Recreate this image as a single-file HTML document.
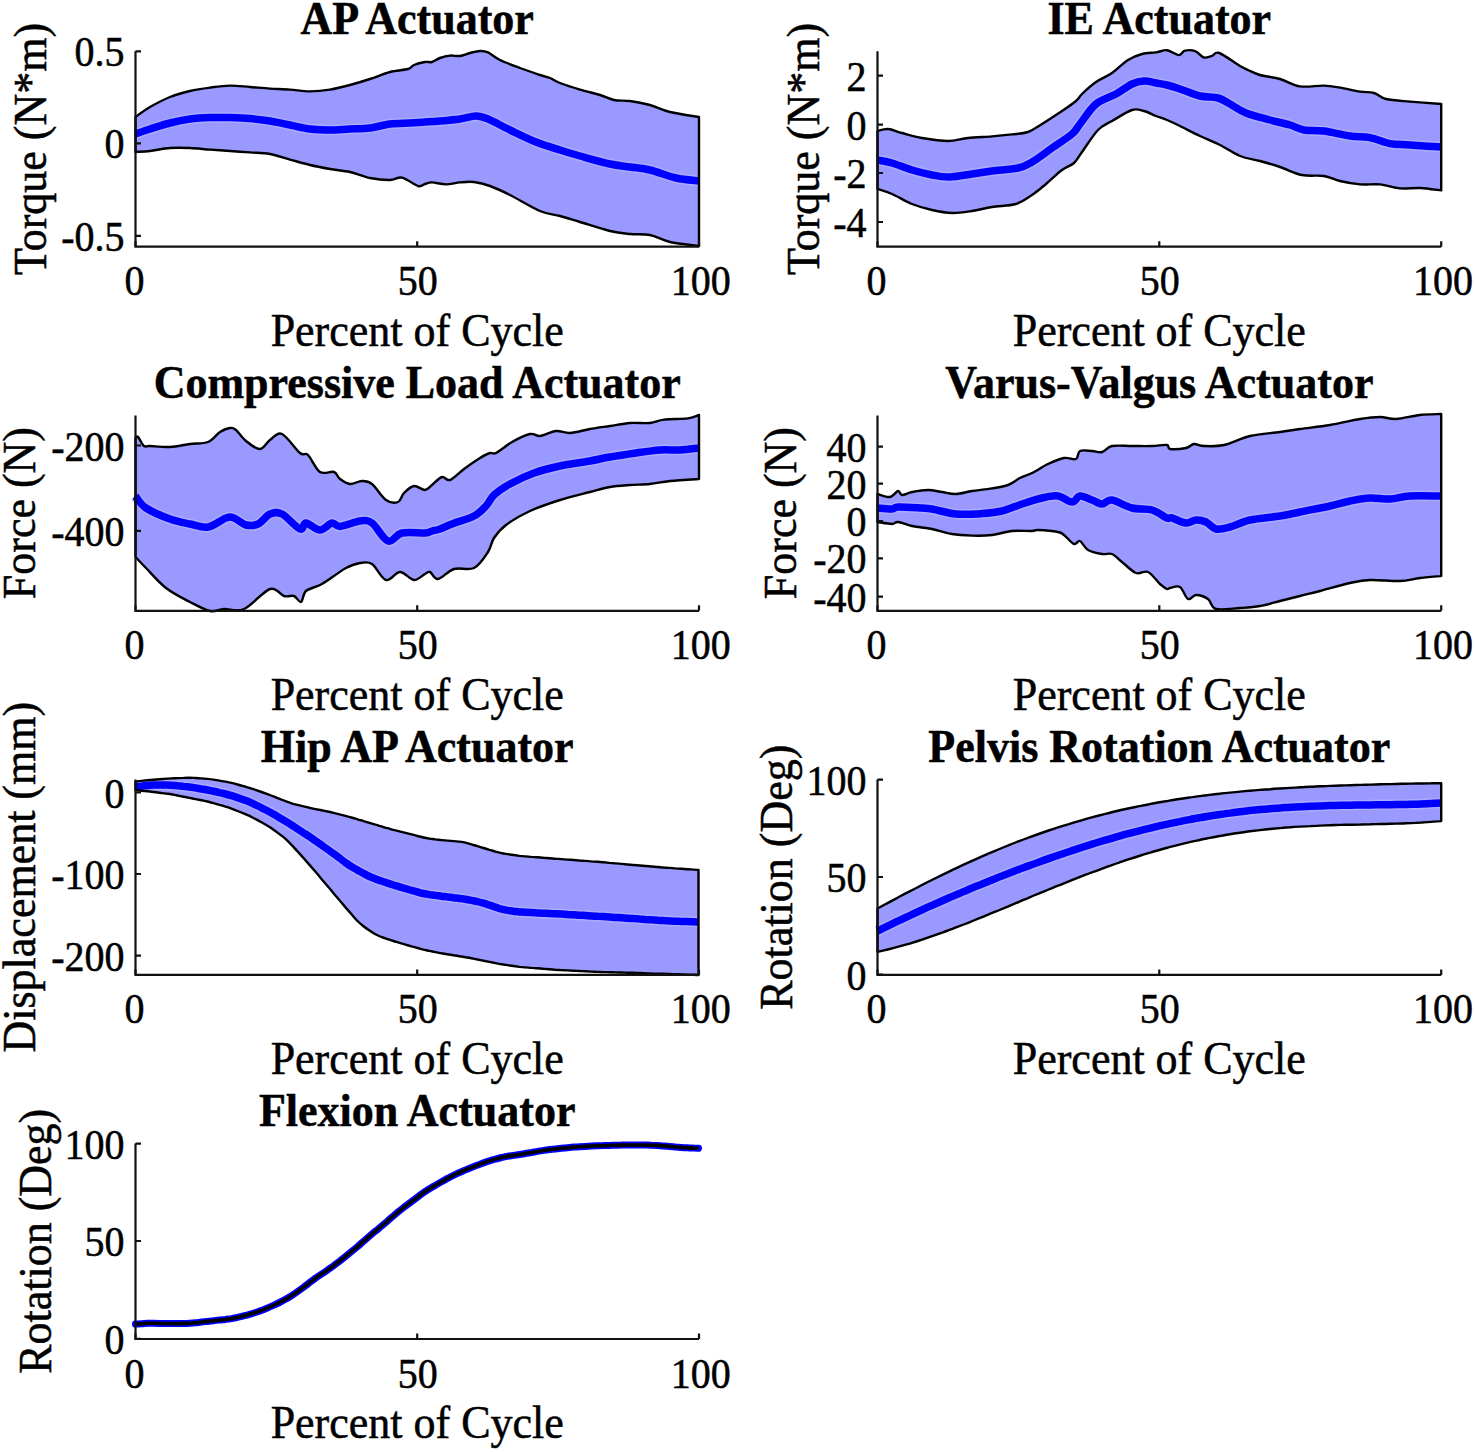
<!DOCTYPE html>
<html><head><meta charset="utf-8"><style>
html,body{margin:0;padding:0;background:#fff;overflow:hidden}
svg{display:block;font-family:"Liberation Serif",serif}
text{stroke:#000;stroke-width:0.5px}
</style></head><body>
<svg width="1475" height="1452" viewBox="0 0 1475 1452">
<rect width="1475" height="1452" fill="#fff"/>
<g>
<path d="M135.5 117.0 C137.9 115.3 144.2 110.3 150.0 107.0 C155.8 103.7 163.3 99.7 170.0 97.0 C176.7 94.3 183.3 92.6 190.0 91.0 C196.7 89.4 203.3 88.5 210.0 87.6 C216.7 86.7 223.3 85.7 230.0 85.6 C236.7 85.5 243.3 86.5 250.0 87.0 C256.7 87.5 263.3 88.2 270.0 88.6 C276.7 89.0 283.3 89.1 290.0 89.6 C296.7 90.1 303.3 91.4 310.0 91.4 C316.7 91.4 323.3 90.7 330.0 89.6 C336.7 88.5 343.3 86.8 350.0 85.0 C356.7 83.2 363.3 81.2 370.0 79.0 C376.7 76.8 383.7 73.7 390.0 72.0 C396.3 70.3 404.0 70.2 408.0 69.0 C412.0 67.8 411.2 66.2 414.0 65.0 C416.8 63.8 422.0 62.5 425.0 62.0 C428.0 61.5 429.5 62.7 432.0 62.0 C434.5 61.3 437.0 59.1 440.0 58.0 C443.0 56.9 446.7 55.9 450.0 55.6 C453.3 55.3 456.7 56.4 460.0 56.0 C463.3 55.6 466.7 53.8 470.0 53.0 C473.3 52.2 477.0 51.1 480.0 51.0 C483.0 50.9 484.7 50.9 488.0 52.4 C491.3 53.9 494.7 57.4 500.0 60.0 C505.3 62.6 513.3 65.5 520.0 68.0 C526.7 70.5 535.0 73.3 540.0 75.0 C545.0 76.7 546.7 76.7 550.0 78.0 C553.3 79.3 555.0 81.1 560.0 83.0 C565.0 84.9 573.3 87.6 580.0 89.6 C586.7 91.6 594.3 93.3 600.0 95.0 C605.7 96.7 609.0 99.0 614.0 100.0 C619.0 101.0 624.0 100.2 630.0 101.0 C636.0 101.8 643.3 103.2 650.0 105.0 C656.7 106.8 661.8 110.0 670.0 112.0 C678.2 114.0 694.2 116.2 699.0 117.0 L699.0 246.0 C694.2 245.3 678.2 243.8 670.0 242.0 C661.8 240.2 656.7 236.3 650.0 235.0 C643.3 233.7 636.7 234.7 630.0 234.0 C623.3 233.3 618.3 233.0 610.0 231.0 C601.7 229.0 588.3 224.5 580.0 222.0 C571.7 219.5 566.7 217.8 560.0 216.0 C553.3 214.2 548.3 214.5 540.0 211.0 C531.7 207.5 518.3 199.2 510.0 195.0 C501.7 190.8 496.0 188.2 490.0 186.0 C484.0 183.8 479.0 182.6 474.0 182.0 C469.0 181.4 464.7 182.0 460.0 182.4 C455.3 182.8 450.7 184.4 446.0 184.4 C441.3 184.4 435.5 182.5 432.0 182.4 C428.5 182.3 427.3 183.4 425.0 184.0 C422.7 184.6 421.8 187.1 418.0 186.0 C414.2 184.9 406.7 178.6 402.0 177.6 C397.3 176.6 395.3 179.9 390.0 180.0 C384.7 180.1 376.7 179.3 370.0 178.0 C363.3 176.7 356.7 173.5 350.0 172.0 C343.3 170.5 336.7 170.2 330.0 169.0 C323.3 167.8 316.7 166.6 310.0 165.0 C303.3 163.4 296.7 161.4 290.0 159.6 C283.3 157.8 276.7 155.2 270.0 154.0 C263.3 152.8 256.7 152.9 250.0 152.4 C243.3 151.9 236.7 151.5 230.0 151.0 C223.3 150.5 216.7 150.1 210.0 149.6 C203.3 149.1 196.7 148.3 190.0 148.0 C183.3 147.7 176.7 147.5 170.0 148.0 C163.3 148.5 155.8 150.3 150.0 151.0 C144.2 151.7 137.9 151.8 135.5 152.0 Z" fill="#9999FF"/>
<path d="M135.5 134.0 C137.9 133.2 144.2 130.8 150.0 129.0 C155.8 127.2 163.3 124.7 170.0 123.0 C176.7 121.3 183.3 119.9 190.0 119.0 C196.7 118.1 203.3 117.8 210.0 117.6 C216.7 117.4 223.3 117.4 230.0 117.6 C236.7 117.8 243.3 118.0 250.0 118.6 C256.7 119.2 263.3 119.9 270.0 121.0 C276.7 122.1 283.3 123.7 290.0 125.0 C296.7 126.3 303.3 128.2 310.0 129.0 C316.7 129.8 323.3 130.0 330.0 130.0 C336.7 130.0 343.3 129.3 350.0 129.0 C356.7 128.7 363.3 128.8 370.0 128.0 C376.7 127.2 383.3 124.8 390.0 124.0 C396.7 123.2 404.2 123.3 410.0 123.0 C415.8 122.7 420.0 122.3 425.0 122.0 C430.0 121.7 434.2 121.5 440.0 121.0 C445.8 120.5 454.0 119.8 460.0 119.0 C466.0 118.2 471.3 116.0 476.0 116.0 C480.7 116.0 482.3 116.7 488.0 119.0 C493.7 121.3 502.0 126.2 510.0 130.0 C518.0 133.8 527.7 138.7 536.0 142.0 C544.3 145.3 552.7 147.7 560.0 150.0 C567.3 152.3 571.7 153.7 580.0 156.0 C588.3 158.3 601.7 162.2 610.0 164.0 C618.3 165.8 623.3 166.0 630.0 167.0 C636.7 168.0 642.3 168.2 650.0 170.0 C657.7 171.8 667.8 176.2 676.0 178.0 C684.2 179.8 695.2 180.5 699.0 181.0" fill="none" stroke="#ABABFF" stroke-width="10.5"/>
<path d="M135.5 134.0 C137.9 133.2 144.2 130.8 150.0 129.0 C155.8 127.2 163.3 124.7 170.0 123.0 C176.7 121.3 183.3 119.9 190.0 119.0 C196.7 118.1 203.3 117.8 210.0 117.6 C216.7 117.4 223.3 117.4 230.0 117.6 C236.7 117.8 243.3 118.0 250.0 118.6 C256.7 119.2 263.3 119.9 270.0 121.0 C276.7 122.1 283.3 123.7 290.0 125.0 C296.7 126.3 303.3 128.2 310.0 129.0 C316.7 129.8 323.3 130.0 330.0 130.0 C336.7 130.0 343.3 129.3 350.0 129.0 C356.7 128.7 363.3 128.8 370.0 128.0 C376.7 127.2 383.3 124.8 390.0 124.0 C396.7 123.2 404.2 123.3 410.0 123.0 C415.8 122.7 420.0 122.3 425.0 122.0 C430.0 121.7 434.2 121.5 440.0 121.0 C445.8 120.5 454.0 119.8 460.0 119.0 C466.0 118.2 471.3 116.0 476.0 116.0 C480.7 116.0 482.3 116.7 488.0 119.0 C493.7 121.3 502.0 126.2 510.0 130.0 C518.0 133.8 527.7 138.7 536.0 142.0 C544.3 145.3 552.7 147.7 560.0 150.0 C567.3 152.3 571.7 153.7 580.0 156.0 C588.3 158.3 601.7 162.2 610.0 164.0 C618.3 165.8 623.3 166.0 630.0 167.0 C636.7 168.0 642.3 168.2 650.0 170.0 C657.7 171.8 667.8 176.2 676.0 178.0 C684.2 179.8 695.2 180.5 699.0 181.0" fill="none" stroke="#0000FF" stroke-width="7.5"/>
<path d="M135.5 117.0 C137.9 115.3 144.2 110.3 150.0 107.0 C155.8 103.7 163.3 99.7 170.0 97.0 C176.7 94.3 183.3 92.6 190.0 91.0 C196.7 89.4 203.3 88.5 210.0 87.6 C216.7 86.7 223.3 85.7 230.0 85.6 C236.7 85.5 243.3 86.5 250.0 87.0 C256.7 87.5 263.3 88.2 270.0 88.6 C276.7 89.0 283.3 89.1 290.0 89.6 C296.7 90.1 303.3 91.4 310.0 91.4 C316.7 91.4 323.3 90.7 330.0 89.6 C336.7 88.5 343.3 86.8 350.0 85.0 C356.7 83.2 363.3 81.2 370.0 79.0 C376.7 76.8 383.7 73.7 390.0 72.0 C396.3 70.3 404.0 70.2 408.0 69.0 C412.0 67.8 411.2 66.2 414.0 65.0 C416.8 63.8 422.0 62.5 425.0 62.0 C428.0 61.5 429.5 62.7 432.0 62.0 C434.5 61.3 437.0 59.1 440.0 58.0 C443.0 56.9 446.7 55.9 450.0 55.6 C453.3 55.3 456.7 56.4 460.0 56.0 C463.3 55.6 466.7 53.8 470.0 53.0 C473.3 52.2 477.0 51.1 480.0 51.0 C483.0 50.9 484.7 50.9 488.0 52.4 C491.3 53.9 494.7 57.4 500.0 60.0 C505.3 62.6 513.3 65.5 520.0 68.0 C526.7 70.5 535.0 73.3 540.0 75.0 C545.0 76.7 546.7 76.7 550.0 78.0 C553.3 79.3 555.0 81.1 560.0 83.0 C565.0 84.9 573.3 87.6 580.0 89.6 C586.7 91.6 594.3 93.3 600.0 95.0 C605.7 96.7 609.0 99.0 614.0 100.0 C619.0 101.0 624.0 100.2 630.0 101.0 C636.0 101.8 643.3 103.2 650.0 105.0 C656.7 106.8 661.8 110.0 670.0 112.0 C678.2 114.0 694.2 116.2 699.0 117.0 L699.0 246.0 C694.2 245.3 678.2 243.8 670.0 242.0 C661.8 240.2 656.7 236.3 650.0 235.0 C643.3 233.7 636.7 234.7 630.0 234.0 C623.3 233.3 618.3 233.0 610.0 231.0 C601.7 229.0 588.3 224.5 580.0 222.0 C571.7 219.5 566.7 217.8 560.0 216.0 C553.3 214.2 548.3 214.5 540.0 211.0 C531.7 207.5 518.3 199.2 510.0 195.0 C501.7 190.8 496.0 188.2 490.0 186.0 C484.0 183.8 479.0 182.6 474.0 182.0 C469.0 181.4 464.7 182.0 460.0 182.4 C455.3 182.8 450.7 184.4 446.0 184.4 C441.3 184.4 435.5 182.5 432.0 182.4 C428.5 182.3 427.3 183.4 425.0 184.0 C422.7 184.6 421.8 187.1 418.0 186.0 C414.2 184.9 406.7 178.6 402.0 177.6 C397.3 176.6 395.3 179.9 390.0 180.0 C384.7 180.1 376.7 179.3 370.0 178.0 C363.3 176.7 356.7 173.5 350.0 172.0 C343.3 170.5 336.7 170.2 330.0 169.0 C323.3 167.8 316.7 166.6 310.0 165.0 C303.3 163.4 296.7 161.4 290.0 159.6 C283.3 157.8 276.7 155.2 270.0 154.0 C263.3 152.8 256.7 152.9 250.0 152.4 C243.3 151.9 236.7 151.5 230.0 151.0 C223.3 150.5 216.7 150.1 210.0 149.6 C203.3 149.1 196.7 148.3 190.0 148.0 C183.3 147.7 176.7 147.5 170.0 148.0 C163.3 148.5 155.8 150.3 150.0 151.0 C144.2 151.7 137.9 151.8 135.5 152.0 Z" fill="none" stroke="#000" stroke-width="2.4" stroke-linejoin="round"/>
<path d="M135.5 51.3 V246.7 H699.0" fill="none" stroke="#111" stroke-width="2.2"/>
<path d="M135.5 51.3 h5.5 M135.5 143.3 h5.5 M135.5 235.8 h5.5 M135.5 246.7 v-5.5 M417.2 246.7 v-5.5 M699.0 246.7 v-5.5" stroke="#111" stroke-width="2.2"/>
<text transform="translate(124.5 66.3) scale(1 1.07)" font-size="40" text-anchor="end">0.5</text>
<text transform="translate(124.5 158.3) scale(1 1.07)" font-size="40" text-anchor="end">0</text>
<text transform="translate(124.5 250.8) scale(1 1.07)" font-size="40" text-anchor="end">-0.5</text>
<text transform="translate(134.5 295.2) scale(1 1.07)" font-size="40" text-anchor="middle">0</text>
<text transform="translate(417.8 295.2) scale(1 1.07)" font-size="40" text-anchor="middle">50</text>
<text transform="translate(700.8 295.2) scale(1 1.07)" font-size="40" text-anchor="middle">100</text>
<text transform="translate(417.2 33.6) scale(1 1.05)" font-size="44" font-weight="bold" text-anchor="middle">AP Actuator</text>
<text transform="translate(417.2 345.9) scale(1 1.04)" font-size="44" text-anchor="middle">Percent of Cycle</text>
<text transform="translate(46.1 149.0) rotate(-90) scale(1 1.04)" font-size="44" text-anchor="middle">Torque (N*m)</text>
</g>
<g>
<path d="M877.5 131.0 C879.2 130.7 883.9 128.7 888.0 129.0 C892.1 129.3 896.3 131.5 902.0 133.0 C907.7 134.5 914.3 136.7 922.0 138.0 C929.7 139.3 940.3 141.0 948.0 141.0 C955.7 141.0 960.7 138.8 968.0 138.0 C975.3 137.2 984.7 137.0 992.0 136.4 C999.3 135.8 1006.0 135.1 1012.0 134.4 C1018.0 133.7 1023.0 133.7 1028.0 132.0 C1033.0 130.3 1036.3 127.5 1042.0 124.0 C1047.7 120.5 1056.3 114.8 1062.0 111.0 C1067.7 107.2 1072.7 103.8 1076.0 101.0 C1079.3 98.2 1078.7 97.2 1082.0 94.0 C1085.3 90.8 1091.0 85.5 1096.0 82.0 C1101.0 78.5 1106.7 76.7 1112.0 73.0 C1117.3 69.3 1123.0 63.2 1128.0 60.0 C1133.0 56.8 1137.3 55.3 1142.0 54.0 C1146.7 52.7 1151.8 53.0 1156.0 52.4 C1160.2 51.8 1163.2 49.8 1167.0 50.2 C1170.8 50.7 1175.6 55.0 1178.6 55.1 C1181.6 55.2 1182.2 51.2 1185.1 50.6 C1187.9 50.0 1192.6 50.2 1195.7 51.4 C1198.8 52.5 1201.1 56.8 1203.8 57.5 C1206.5 58.2 1209.4 56.6 1212.0 55.9 C1214.6 55.1 1214.6 51.3 1219.3 53.0 C1224.0 54.7 1235.2 63.2 1240.0 66.0 C1244.8 68.8 1244.7 68.5 1248.0 70.0 C1251.3 71.5 1254.7 73.5 1260.0 75.0 C1265.3 76.5 1273.3 77.1 1280.0 79.0 C1286.7 80.9 1292.7 85.3 1300.0 86.4 C1307.3 87.5 1317.3 85.4 1324.0 85.6 C1330.7 85.8 1334.0 86.6 1340.0 87.6 C1346.0 88.6 1354.3 90.7 1360.0 91.6 C1365.7 92.5 1369.7 91.8 1374.0 93.0 C1378.3 94.2 1380.0 97.6 1386.0 99.0 C1392.0 100.4 1400.8 100.8 1410.0 101.6 C1419.2 102.4 1436.0 103.6 1441.2 104.0 L1441.2 190.4 C1437.7 190.0 1426.9 188.3 1420.0 188.0 C1413.1 187.7 1406.7 189.0 1400.0 188.4 C1393.3 187.8 1386.7 185.1 1380.0 184.4 C1373.3 183.7 1366.7 185.0 1360.0 184.4 C1353.3 183.8 1346.0 182.4 1340.0 181.0 C1334.0 179.6 1330.3 177.0 1324.0 176.0 C1317.7 175.0 1309.3 176.5 1302.0 175.0 C1294.7 173.5 1287.0 169.3 1280.0 167.0 C1273.0 164.7 1266.7 162.8 1260.0 161.0 C1253.3 159.2 1246.7 158.7 1240.0 156.0 C1233.3 153.3 1226.7 148.3 1220.0 145.0 C1213.3 141.7 1206.7 139.2 1200.0 136.0 C1193.3 132.8 1185.5 128.7 1180.0 126.0 C1174.5 123.3 1171.0 121.7 1167.0 120.0 C1163.0 118.3 1159.8 117.5 1156.0 116.0 C1152.2 114.5 1148.0 112.0 1144.0 111.0 C1140.0 110.0 1137.3 108.3 1132.0 110.0 C1126.7 111.7 1117.7 117.7 1112.0 121.0 C1106.3 124.3 1103.0 124.8 1098.0 130.0 C1093.0 135.2 1086.0 146.5 1082.0 152.0 C1078.0 157.5 1077.3 160.0 1074.0 163.0 C1070.7 166.0 1066.7 166.5 1062.0 170.0 C1057.3 173.5 1051.0 179.8 1046.0 184.0 C1041.0 188.2 1037.0 191.7 1032.0 195.0 C1027.0 198.3 1022.7 202.0 1016.0 204.0 C1009.3 206.0 999.3 205.8 992.0 207.0 C984.7 208.2 978.7 210.0 972.0 211.0 C965.3 212.0 958.7 213.2 952.0 213.0 C945.3 212.8 938.7 211.5 932.0 210.0 C925.3 208.5 918.7 206.7 912.0 204.0 C905.3 201.3 897.8 196.5 892.0 194.0 C886.2 191.5 879.9 189.8 877.5 189.0 Z" fill="#9999FF"/>
<path d="M877.5 160.0 C879.9 160.5 886.2 161.3 892.0 163.0 C897.8 164.7 905.3 168.0 912.0 170.0 C918.7 172.0 925.7 173.8 932.0 175.0 C938.3 176.2 943.3 177.2 950.0 177.0 C956.7 176.8 965.0 175.0 972.0 174.0 C979.0 173.0 984.3 172.0 992.0 171.0 C999.7 170.0 1011.3 169.5 1018.0 168.0 C1024.7 166.5 1026.3 165.3 1032.0 162.0 C1037.7 158.7 1045.3 152.7 1052.0 148.0 C1058.7 143.3 1067.3 138.0 1072.0 134.0 C1076.7 130.0 1076.0 129.0 1080.0 124.0 C1084.0 119.0 1090.0 109.0 1096.0 104.0 C1102.0 99.0 1110.0 97.3 1116.0 94.0 C1122.0 90.7 1127.3 86.2 1132.0 84.0 C1136.7 81.8 1140.0 81.2 1144.0 81.0 C1148.0 80.8 1152.2 82.3 1156.0 83.0 C1159.8 83.7 1163.0 84.0 1167.0 85.0 C1171.0 86.0 1174.5 87.2 1180.0 89.0 C1185.5 90.8 1193.7 94.5 1200.0 96.0 C1206.3 97.5 1213.0 96.7 1218.0 98.0 C1223.0 99.3 1225.3 101.5 1230.0 104.0 C1234.7 106.5 1239.3 110.3 1246.0 113.0 C1252.7 115.7 1262.7 118.0 1270.0 120.0 C1277.3 122.0 1284.3 123.3 1290.0 125.0 C1295.7 126.7 1298.3 129.0 1304.0 130.0 C1309.7 131.0 1316.3 130.0 1324.0 131.0 C1331.7 132.0 1342.3 134.9 1350.0 136.0 C1357.7 137.1 1363.3 136.3 1370.0 137.6 C1376.7 138.9 1383.3 142.4 1390.0 143.6 C1396.7 144.8 1401.5 144.4 1410.0 145.0 C1418.5 145.6 1436.0 146.7 1441.2 147.0" fill="none" stroke="#ABABFF" stroke-width="10.5"/>
<path d="M877.5 160.0 C879.9 160.5 886.2 161.3 892.0 163.0 C897.8 164.7 905.3 168.0 912.0 170.0 C918.7 172.0 925.7 173.8 932.0 175.0 C938.3 176.2 943.3 177.2 950.0 177.0 C956.7 176.8 965.0 175.0 972.0 174.0 C979.0 173.0 984.3 172.0 992.0 171.0 C999.7 170.0 1011.3 169.5 1018.0 168.0 C1024.7 166.5 1026.3 165.3 1032.0 162.0 C1037.7 158.7 1045.3 152.7 1052.0 148.0 C1058.7 143.3 1067.3 138.0 1072.0 134.0 C1076.7 130.0 1076.0 129.0 1080.0 124.0 C1084.0 119.0 1090.0 109.0 1096.0 104.0 C1102.0 99.0 1110.0 97.3 1116.0 94.0 C1122.0 90.7 1127.3 86.2 1132.0 84.0 C1136.7 81.8 1140.0 81.2 1144.0 81.0 C1148.0 80.8 1152.2 82.3 1156.0 83.0 C1159.8 83.7 1163.0 84.0 1167.0 85.0 C1171.0 86.0 1174.5 87.2 1180.0 89.0 C1185.5 90.8 1193.7 94.5 1200.0 96.0 C1206.3 97.5 1213.0 96.7 1218.0 98.0 C1223.0 99.3 1225.3 101.5 1230.0 104.0 C1234.7 106.5 1239.3 110.3 1246.0 113.0 C1252.7 115.7 1262.7 118.0 1270.0 120.0 C1277.3 122.0 1284.3 123.3 1290.0 125.0 C1295.7 126.7 1298.3 129.0 1304.0 130.0 C1309.7 131.0 1316.3 130.0 1324.0 131.0 C1331.7 132.0 1342.3 134.9 1350.0 136.0 C1357.7 137.1 1363.3 136.3 1370.0 137.6 C1376.7 138.9 1383.3 142.4 1390.0 143.6 C1396.7 144.8 1401.5 144.4 1410.0 145.0 C1418.5 145.6 1436.0 146.7 1441.2 147.0" fill="none" stroke="#0000FF" stroke-width="7.5"/>
<path d="M877.5 131.0 C879.2 130.7 883.9 128.7 888.0 129.0 C892.1 129.3 896.3 131.5 902.0 133.0 C907.7 134.5 914.3 136.7 922.0 138.0 C929.7 139.3 940.3 141.0 948.0 141.0 C955.7 141.0 960.7 138.8 968.0 138.0 C975.3 137.2 984.7 137.0 992.0 136.4 C999.3 135.8 1006.0 135.1 1012.0 134.4 C1018.0 133.7 1023.0 133.7 1028.0 132.0 C1033.0 130.3 1036.3 127.5 1042.0 124.0 C1047.7 120.5 1056.3 114.8 1062.0 111.0 C1067.7 107.2 1072.7 103.8 1076.0 101.0 C1079.3 98.2 1078.7 97.2 1082.0 94.0 C1085.3 90.8 1091.0 85.5 1096.0 82.0 C1101.0 78.5 1106.7 76.7 1112.0 73.0 C1117.3 69.3 1123.0 63.2 1128.0 60.0 C1133.0 56.8 1137.3 55.3 1142.0 54.0 C1146.7 52.7 1151.8 53.0 1156.0 52.4 C1160.2 51.8 1163.2 49.8 1167.0 50.2 C1170.8 50.7 1175.6 55.0 1178.6 55.1 C1181.6 55.2 1182.2 51.2 1185.1 50.6 C1187.9 50.0 1192.6 50.2 1195.7 51.4 C1198.8 52.5 1201.1 56.8 1203.8 57.5 C1206.5 58.2 1209.4 56.6 1212.0 55.9 C1214.6 55.1 1214.6 51.3 1219.3 53.0 C1224.0 54.7 1235.2 63.2 1240.0 66.0 C1244.8 68.8 1244.7 68.5 1248.0 70.0 C1251.3 71.5 1254.7 73.5 1260.0 75.0 C1265.3 76.5 1273.3 77.1 1280.0 79.0 C1286.7 80.9 1292.7 85.3 1300.0 86.4 C1307.3 87.5 1317.3 85.4 1324.0 85.6 C1330.7 85.8 1334.0 86.6 1340.0 87.6 C1346.0 88.6 1354.3 90.7 1360.0 91.6 C1365.7 92.5 1369.7 91.8 1374.0 93.0 C1378.3 94.2 1380.0 97.6 1386.0 99.0 C1392.0 100.4 1400.8 100.8 1410.0 101.6 C1419.2 102.4 1436.0 103.6 1441.2 104.0 L1441.2 190.4 C1437.7 190.0 1426.9 188.3 1420.0 188.0 C1413.1 187.7 1406.7 189.0 1400.0 188.4 C1393.3 187.8 1386.7 185.1 1380.0 184.4 C1373.3 183.7 1366.7 185.0 1360.0 184.4 C1353.3 183.8 1346.0 182.4 1340.0 181.0 C1334.0 179.6 1330.3 177.0 1324.0 176.0 C1317.7 175.0 1309.3 176.5 1302.0 175.0 C1294.7 173.5 1287.0 169.3 1280.0 167.0 C1273.0 164.7 1266.7 162.8 1260.0 161.0 C1253.3 159.2 1246.7 158.7 1240.0 156.0 C1233.3 153.3 1226.7 148.3 1220.0 145.0 C1213.3 141.7 1206.7 139.2 1200.0 136.0 C1193.3 132.8 1185.5 128.7 1180.0 126.0 C1174.5 123.3 1171.0 121.7 1167.0 120.0 C1163.0 118.3 1159.8 117.5 1156.0 116.0 C1152.2 114.5 1148.0 112.0 1144.0 111.0 C1140.0 110.0 1137.3 108.3 1132.0 110.0 C1126.7 111.7 1117.7 117.7 1112.0 121.0 C1106.3 124.3 1103.0 124.8 1098.0 130.0 C1093.0 135.2 1086.0 146.5 1082.0 152.0 C1078.0 157.5 1077.3 160.0 1074.0 163.0 C1070.7 166.0 1066.7 166.5 1062.0 170.0 C1057.3 173.5 1051.0 179.8 1046.0 184.0 C1041.0 188.2 1037.0 191.7 1032.0 195.0 C1027.0 198.3 1022.7 202.0 1016.0 204.0 C1009.3 206.0 999.3 205.8 992.0 207.0 C984.7 208.2 978.7 210.0 972.0 211.0 C965.3 212.0 958.7 213.2 952.0 213.0 C945.3 212.8 938.7 211.5 932.0 210.0 C925.3 208.5 918.7 206.7 912.0 204.0 C905.3 201.3 897.8 196.5 892.0 194.0 C886.2 191.5 879.9 189.8 877.5 189.0 Z" fill="none" stroke="#000" stroke-width="2.4" stroke-linejoin="round"/>
<path d="M877.5 51.3 V246.7 H1441.2" fill="none" stroke="#111" stroke-width="2.2"/>
<path d="M877.5 75.6 h5.5 M877.5 124.6 h5.5 M877.5 173.0 h5.5 M877.5 222.0 h5.5 M877.5 246.7 v-5.5 M1159.3 246.7 v-5.5 M1441.2 246.7 v-5.5" stroke="#111" stroke-width="2.2"/>
<text transform="translate(866.5 90.6) scale(1 1.07)" font-size="40" text-anchor="end">2</text>
<text transform="translate(866.5 139.6) scale(1 1.07)" font-size="40" text-anchor="end">0</text>
<text transform="translate(866.5 188.0) scale(1 1.07)" font-size="40" text-anchor="end">-2</text>
<text transform="translate(866.5 237.0) scale(1 1.07)" font-size="40" text-anchor="end">-4</text>
<text transform="translate(876.5 295.2) scale(1 1.07)" font-size="40" text-anchor="middle">0</text>
<text transform="translate(1159.8 295.2) scale(1 1.07)" font-size="40" text-anchor="middle">50</text>
<text transform="translate(1443.0 295.2) scale(1 1.07)" font-size="40" text-anchor="middle">100</text>
<text transform="translate(1159.3 33.6) scale(1 1.05)" font-size="44" font-weight="bold" text-anchor="middle">IE Actuator</text>
<text transform="translate(1159.3 345.9) scale(1 1.04)" font-size="44" text-anchor="middle">Percent of Cycle</text>
<text transform="translate(818.8 149.0) rotate(-90) scale(1 1.04)" font-size="44" text-anchor="middle">Torque (N*m)</text>
</g>
<g>
<path d="M135.5 438.0 C135.9 437.8 136.6 435.7 138.0 437.0 C139.4 438.3 142.0 444.5 144.0 446.0 C146.0 447.5 145.7 445.8 150.0 446.0 C154.3 446.2 163.3 447.3 170.0 447.0 C176.7 446.7 183.7 444.8 190.0 444.0 C196.3 443.2 203.0 444.0 208.0 442.0 C213.0 440.0 216.3 434.3 220.0 432.0 C223.7 429.7 227.3 428.3 230.0 428.0 C232.7 427.7 233.3 427.8 236.0 430.0 C238.7 432.2 242.0 437.8 246.0 441.0 C250.0 444.2 256.0 449.2 260.0 449.0 C264.0 448.8 266.3 442.5 270.0 440.0 C273.7 437.5 277.0 431.8 282.0 434.0 C287.0 436.2 295.7 449.5 300.0 453.0 C304.3 456.5 304.7 451.8 308.0 455.0 C311.3 458.2 315.7 469.2 320.0 472.0 C324.3 474.8 330.7 470.8 334.0 472.0 C337.3 473.2 337.3 477.0 340.0 479.0 C342.7 481.0 346.3 483.7 350.0 484.0 C353.7 484.3 358.3 481.0 362.0 481.0 C365.7 481.0 368.0 480.8 372.0 484.0 C376.0 487.2 381.7 497.0 386.0 500.0 C390.3 503.0 395.0 503.2 398.0 502.0 C401.0 500.8 401.3 495.7 404.0 493.0 C406.7 490.3 410.5 486.5 414.0 486.0 C417.5 485.5 422.0 490.2 425.0 490.0 C428.0 489.8 429.2 487.2 432.0 485.0 C434.8 482.8 439.0 477.8 442.0 477.0 C445.0 476.2 446.3 481.3 450.0 480.0 C453.7 478.7 459.0 472.7 464.0 469.0 C469.0 465.3 475.7 460.7 480.0 458.0 C484.3 455.3 487.3 453.8 490.0 453.0 C492.7 452.2 492.3 454.8 496.0 453.0 C499.7 451.2 506.3 445.2 512.0 442.0 C517.7 438.8 525.3 435.0 530.0 434.0 C534.7 433.0 535.7 436.5 540.0 436.0 C544.3 435.5 551.0 431.5 556.0 431.0 C561.0 430.5 564.3 433.3 570.0 433.0 C575.7 432.7 583.3 430.2 590.0 429.0 C596.7 427.8 603.3 427.0 610.0 426.0 C616.7 425.0 623.3 423.5 630.0 423.0 C636.7 422.5 644.3 423.6 650.0 423.0 C655.7 422.4 657.7 420.4 664.0 419.6 C670.3 418.8 682.2 419.2 688.0 418.4 C693.8 417.6 697.2 415.6 699.0 415.0 L699.0 479.0 C694.2 479.3 678.2 480.2 670.0 481.0 C661.8 481.8 656.7 483.3 650.0 484.0 C643.3 484.7 636.7 484.5 630.0 485.0 C623.3 485.5 616.7 485.8 610.0 487.0 C603.3 488.2 598.3 489.8 590.0 492.0 C581.7 494.2 570.0 496.8 560.0 500.0 C550.0 503.2 539.0 506.8 530.0 511.0 C521.0 515.2 512.0 520.5 506.0 525.0 C500.0 529.5 497.0 533.5 494.0 538.0 C491.0 542.5 491.3 547.0 488.0 552.0 C484.7 557.0 479.7 565.2 474.0 568.0 C468.3 570.8 460.0 567.2 454.0 569.0 C448.0 570.8 442.0 578.5 438.0 579.0 C434.0 579.5 432.2 572.8 430.0 572.0 C427.8 571.2 427.7 572.7 425.0 574.0 C422.3 575.3 418.2 580.3 414.0 580.0 C409.8 579.7 404.7 572.0 400.0 572.0 C395.3 572.0 390.7 581.3 386.0 580.0 C381.3 578.7 376.3 566.8 372.0 564.0 C367.7 561.2 364.3 562.3 360.0 563.0 C355.7 563.7 350.3 565.8 346.0 568.0 C341.7 570.2 338.3 573.2 334.0 576.0 C329.7 578.8 324.7 582.5 320.0 585.0 C315.3 587.5 309.2 588.2 306.0 591.0 C302.8 593.8 303.0 601.2 301.0 602.0 C299.0 602.8 296.8 597.0 294.0 596.0 C291.2 595.0 288.0 597.2 284.0 596.0 C280.0 594.8 276.7 586.8 270.0 589.0 C263.3 591.2 251.7 605.7 244.0 609.0 C236.3 612.3 229.7 608.7 224.0 609.0 C218.3 609.3 215.7 612.2 210.0 611.0 C204.3 609.8 197.3 605.8 190.0 602.0 C182.7 598.2 173.3 593.7 166.0 588.0 C158.7 582.3 151.1 573.2 146.0 568.0 C140.9 562.8 137.2 558.8 135.5 557.0 Z" fill="#9999FF"/>
<path d="M135.5 496.0 C137.2 498.0 140.2 504.2 146.0 508.0 C151.8 511.8 162.7 516.3 170.0 519.0 C177.3 521.7 183.7 522.7 190.0 524.0 C196.3 525.3 202.0 528.0 208.0 527.0 C214.0 526.0 221.7 519.5 226.0 518.0 C230.3 516.5 230.7 516.8 234.0 518.0 C237.3 519.2 242.0 524.0 246.0 525.0 C250.0 526.0 254.0 525.8 258.0 524.0 C262.0 522.2 266.0 515.7 270.0 514.0 C274.0 512.3 277.0 511.5 282.0 514.0 C287.0 516.5 296.0 527.5 300.0 529.0 C304.0 530.5 302.7 522.8 306.0 523.0 C309.3 523.2 315.7 530.0 320.0 530.0 C324.3 530.0 328.7 523.6 332.0 523.0 C335.3 522.4 335.3 526.7 340.0 526.4 C344.7 526.1 354.7 521.6 360.0 521.0 C365.3 520.4 367.3 519.7 372.0 523.0 C376.7 526.3 383.0 539.3 388.0 541.0 C393.0 542.7 395.8 534.3 402.0 533.0 C408.2 531.7 420.0 533.3 425.0 533.0 C430.0 532.7 429.5 531.7 432.0 531.0 C434.5 530.3 436.7 530.2 440.0 529.0 C443.3 527.8 446.3 526.2 452.0 524.0 C457.7 521.8 468.3 519.0 474.0 516.0 C479.7 513.0 482.7 509.5 486.0 506.0 C489.3 502.5 490.0 498.7 494.0 495.0 C498.0 491.3 503.3 487.7 510.0 484.0 C516.7 480.3 525.7 476.0 534.0 473.0 C542.3 470.0 550.7 468.0 560.0 466.0 C569.3 464.0 581.7 462.5 590.0 461.0 C598.3 459.5 602.3 458.3 610.0 457.0 C617.7 455.7 627.7 454.2 636.0 453.0 C644.3 451.8 652.7 450.5 660.0 450.0 C667.3 449.5 673.5 450.3 680.0 450.0 C686.5 449.7 695.8 448.3 699.0 448.0" fill="none" stroke="#ABABFF" stroke-width="10.5"/>
<path d="M135.5 496.0 C137.2 498.0 140.2 504.2 146.0 508.0 C151.8 511.8 162.7 516.3 170.0 519.0 C177.3 521.7 183.7 522.7 190.0 524.0 C196.3 525.3 202.0 528.0 208.0 527.0 C214.0 526.0 221.7 519.5 226.0 518.0 C230.3 516.5 230.7 516.8 234.0 518.0 C237.3 519.2 242.0 524.0 246.0 525.0 C250.0 526.0 254.0 525.8 258.0 524.0 C262.0 522.2 266.0 515.7 270.0 514.0 C274.0 512.3 277.0 511.5 282.0 514.0 C287.0 516.5 296.0 527.5 300.0 529.0 C304.0 530.5 302.7 522.8 306.0 523.0 C309.3 523.2 315.7 530.0 320.0 530.0 C324.3 530.0 328.7 523.6 332.0 523.0 C335.3 522.4 335.3 526.7 340.0 526.4 C344.7 526.1 354.7 521.6 360.0 521.0 C365.3 520.4 367.3 519.7 372.0 523.0 C376.7 526.3 383.0 539.3 388.0 541.0 C393.0 542.7 395.8 534.3 402.0 533.0 C408.2 531.7 420.0 533.3 425.0 533.0 C430.0 532.7 429.5 531.7 432.0 531.0 C434.5 530.3 436.7 530.2 440.0 529.0 C443.3 527.8 446.3 526.2 452.0 524.0 C457.7 521.8 468.3 519.0 474.0 516.0 C479.7 513.0 482.7 509.5 486.0 506.0 C489.3 502.5 490.0 498.7 494.0 495.0 C498.0 491.3 503.3 487.7 510.0 484.0 C516.7 480.3 525.7 476.0 534.0 473.0 C542.3 470.0 550.7 468.0 560.0 466.0 C569.3 464.0 581.7 462.5 590.0 461.0 C598.3 459.5 602.3 458.3 610.0 457.0 C617.7 455.7 627.7 454.2 636.0 453.0 C644.3 451.8 652.7 450.5 660.0 450.0 C667.3 449.5 673.5 450.3 680.0 450.0 C686.5 449.7 695.8 448.3 699.0 448.0" fill="none" stroke="#0000FF" stroke-width="7.5"/>
<path d="M135.5 438.0 C135.9 437.8 136.6 435.7 138.0 437.0 C139.4 438.3 142.0 444.5 144.0 446.0 C146.0 447.5 145.7 445.8 150.0 446.0 C154.3 446.2 163.3 447.3 170.0 447.0 C176.7 446.7 183.7 444.8 190.0 444.0 C196.3 443.2 203.0 444.0 208.0 442.0 C213.0 440.0 216.3 434.3 220.0 432.0 C223.7 429.7 227.3 428.3 230.0 428.0 C232.7 427.7 233.3 427.8 236.0 430.0 C238.7 432.2 242.0 437.8 246.0 441.0 C250.0 444.2 256.0 449.2 260.0 449.0 C264.0 448.8 266.3 442.5 270.0 440.0 C273.7 437.5 277.0 431.8 282.0 434.0 C287.0 436.2 295.7 449.5 300.0 453.0 C304.3 456.5 304.7 451.8 308.0 455.0 C311.3 458.2 315.7 469.2 320.0 472.0 C324.3 474.8 330.7 470.8 334.0 472.0 C337.3 473.2 337.3 477.0 340.0 479.0 C342.7 481.0 346.3 483.7 350.0 484.0 C353.7 484.3 358.3 481.0 362.0 481.0 C365.7 481.0 368.0 480.8 372.0 484.0 C376.0 487.2 381.7 497.0 386.0 500.0 C390.3 503.0 395.0 503.2 398.0 502.0 C401.0 500.8 401.3 495.7 404.0 493.0 C406.7 490.3 410.5 486.5 414.0 486.0 C417.5 485.5 422.0 490.2 425.0 490.0 C428.0 489.8 429.2 487.2 432.0 485.0 C434.8 482.8 439.0 477.8 442.0 477.0 C445.0 476.2 446.3 481.3 450.0 480.0 C453.7 478.7 459.0 472.7 464.0 469.0 C469.0 465.3 475.7 460.7 480.0 458.0 C484.3 455.3 487.3 453.8 490.0 453.0 C492.7 452.2 492.3 454.8 496.0 453.0 C499.7 451.2 506.3 445.2 512.0 442.0 C517.7 438.8 525.3 435.0 530.0 434.0 C534.7 433.0 535.7 436.5 540.0 436.0 C544.3 435.5 551.0 431.5 556.0 431.0 C561.0 430.5 564.3 433.3 570.0 433.0 C575.7 432.7 583.3 430.2 590.0 429.0 C596.7 427.8 603.3 427.0 610.0 426.0 C616.7 425.0 623.3 423.5 630.0 423.0 C636.7 422.5 644.3 423.6 650.0 423.0 C655.7 422.4 657.7 420.4 664.0 419.6 C670.3 418.8 682.2 419.2 688.0 418.4 C693.8 417.6 697.2 415.6 699.0 415.0 L699.0 479.0 C694.2 479.3 678.2 480.2 670.0 481.0 C661.8 481.8 656.7 483.3 650.0 484.0 C643.3 484.7 636.7 484.5 630.0 485.0 C623.3 485.5 616.7 485.8 610.0 487.0 C603.3 488.2 598.3 489.8 590.0 492.0 C581.7 494.2 570.0 496.8 560.0 500.0 C550.0 503.2 539.0 506.8 530.0 511.0 C521.0 515.2 512.0 520.5 506.0 525.0 C500.0 529.5 497.0 533.5 494.0 538.0 C491.0 542.5 491.3 547.0 488.0 552.0 C484.7 557.0 479.7 565.2 474.0 568.0 C468.3 570.8 460.0 567.2 454.0 569.0 C448.0 570.8 442.0 578.5 438.0 579.0 C434.0 579.5 432.2 572.8 430.0 572.0 C427.8 571.2 427.7 572.7 425.0 574.0 C422.3 575.3 418.2 580.3 414.0 580.0 C409.8 579.7 404.7 572.0 400.0 572.0 C395.3 572.0 390.7 581.3 386.0 580.0 C381.3 578.7 376.3 566.8 372.0 564.0 C367.7 561.2 364.3 562.3 360.0 563.0 C355.7 563.7 350.3 565.8 346.0 568.0 C341.7 570.2 338.3 573.2 334.0 576.0 C329.7 578.8 324.7 582.5 320.0 585.0 C315.3 587.5 309.2 588.2 306.0 591.0 C302.8 593.8 303.0 601.2 301.0 602.0 C299.0 602.8 296.8 597.0 294.0 596.0 C291.2 595.0 288.0 597.2 284.0 596.0 C280.0 594.8 276.7 586.8 270.0 589.0 C263.3 591.2 251.7 605.7 244.0 609.0 C236.3 612.3 229.7 608.7 224.0 609.0 C218.3 609.3 215.7 612.2 210.0 611.0 C204.3 609.8 197.3 605.8 190.0 602.0 C182.7 598.2 173.3 593.7 166.0 588.0 C158.7 582.3 151.1 573.2 146.0 568.0 C140.9 562.8 137.2 558.8 135.5 557.0 Z" fill="none" stroke="#000" stroke-width="2.4" stroke-linejoin="round"/>
<path d="M135.5 415.4 V610.8 H699.0" fill="none" stroke="#111" stroke-width="2.2"/>
<path d="M135.5 445.5 h5.5 M135.5 530.8 h5.5 M135.5 610.8 v-5.5 M417.2 610.8 v-5.5 M699.0 610.8 v-5.5" stroke="#111" stroke-width="2.2"/>
<text transform="translate(124.5 460.5) scale(1 1.07)" font-size="40" text-anchor="end">-200</text>
<text transform="translate(124.5 545.8) scale(1 1.07)" font-size="40" text-anchor="end">-400</text>
<text transform="translate(134.5 659.3) scale(1 1.07)" font-size="40" text-anchor="middle">0</text>
<text transform="translate(417.8 659.3) scale(1 1.07)" font-size="40" text-anchor="middle">50</text>
<text transform="translate(700.8 659.3) scale(1 1.07)" font-size="40" text-anchor="middle">100</text>
<text transform="translate(417.2 397.7) scale(1 1.05)" font-size="44" font-weight="bold" text-anchor="middle">Compressive Load Actuator</text>
<text transform="translate(417.2 710.0) scale(1 1.04)" font-size="44" text-anchor="middle">Percent of Cycle</text>
<text transform="translate(34.9 513.1) rotate(-90) scale(1 1.04)" font-size="44" text-anchor="middle">Force (N)</text>
</g>
<g>
<path d="M877.5 494.0 C879.6 494.5 886.6 497.5 890.0 497.0 C893.4 496.5 896.0 491.3 898.0 491.0 C900.0 490.7 899.7 494.8 902.0 495.0 C904.3 495.2 907.7 492.8 912.0 492.0 C916.3 491.2 923.0 490.0 928.0 490.0 C933.0 490.0 937.3 491.3 942.0 492.0 C946.7 492.7 951.0 494.2 956.0 494.0 C961.0 493.8 966.0 491.9 972.0 491.0 C978.0 490.1 986.0 489.4 992.0 488.4 C998.0 487.4 1003.3 486.7 1008.0 485.0 C1012.7 483.3 1016.0 480.0 1020.0 478.0 C1024.0 476.0 1027.3 475.3 1032.0 473.0 C1036.7 470.7 1042.7 466.5 1048.0 464.0 C1053.3 461.5 1059.3 458.8 1064.0 458.0 C1068.7 457.2 1073.3 460.2 1076.0 459.0 C1078.7 457.8 1077.3 452.3 1080.0 451.0 C1082.7 449.7 1088.3 450.8 1092.0 451.0 C1095.7 451.2 1098.7 452.8 1102.0 452.0 C1105.3 451.2 1107.0 447.0 1112.0 446.0 C1117.0 445.0 1125.3 446.0 1132.0 446.0 C1138.7 446.0 1146.2 446.2 1152.0 446.0 C1157.8 445.8 1164.0 444.5 1167.0 445.0 C1170.0 445.5 1166.8 448.5 1170.0 449.0 C1173.2 449.5 1182.0 448.8 1186.0 448.0 C1190.0 447.2 1191.0 444.3 1194.0 444.0 C1197.0 443.7 1199.0 445.8 1204.0 446.0 C1209.0 446.2 1216.3 446.7 1224.0 445.0 C1231.7 443.3 1240.7 438.2 1250.0 436.0 C1259.3 433.8 1271.7 433.2 1280.0 432.0 C1288.3 430.8 1291.7 430.2 1300.0 429.0 C1308.3 427.8 1320.0 426.7 1330.0 425.0 C1340.0 423.3 1351.7 420.3 1360.0 419.0 C1368.3 417.7 1374.0 417.0 1380.0 417.0 C1386.0 417.0 1389.3 419.3 1396.0 419.0 C1402.7 418.7 1412.5 415.8 1420.0 415.0 C1427.5 414.2 1437.7 414.2 1441.2 414.0 L1441.2 576.0 C1437.7 576.3 1426.9 577.2 1420.0 578.0 C1413.1 578.8 1408.3 580.7 1400.0 581.0 C1391.7 581.3 1378.3 579.7 1370.0 580.0 C1361.7 580.3 1358.3 581.2 1350.0 583.0 C1341.7 584.8 1328.3 588.8 1320.0 591.0 C1311.7 593.2 1306.7 594.3 1300.0 596.0 C1293.3 597.7 1286.7 599.3 1280.0 601.0 C1273.3 602.7 1266.7 604.8 1260.0 606.0 C1253.3 607.2 1247.3 607.5 1240.0 608.0 C1232.7 608.5 1221.3 610.5 1216.0 609.0 C1210.7 607.5 1211.3 601.3 1208.0 599.0 C1204.7 596.7 1199.3 595.0 1196.0 595.0 C1192.7 595.0 1190.7 600.3 1188.0 599.0 C1185.3 597.7 1183.0 588.8 1180.0 587.0 C1177.0 585.2 1172.2 587.7 1170.0 588.0 C1167.8 588.3 1168.7 589.7 1167.0 589.0 C1165.3 588.3 1163.2 586.8 1160.0 584.0 C1156.8 581.2 1152.0 573.8 1148.0 572.0 C1144.0 570.2 1140.3 574.7 1136.0 573.0 C1131.7 571.3 1126.0 565.2 1122.0 562.0 C1118.0 558.8 1115.3 555.3 1112.0 554.0 C1108.7 552.7 1106.0 554.7 1102.0 554.0 C1098.0 553.3 1091.7 552.2 1088.0 550.0 C1084.3 547.8 1082.3 542.0 1080.0 541.0 C1077.7 540.0 1076.7 545.0 1074.0 544.0 C1071.3 543.0 1066.7 537.0 1064.0 535.0 C1061.3 533.0 1062.3 532.8 1058.0 532.0 C1053.7 531.2 1042.3 530.2 1038.0 530.0 C1033.7 529.8 1036.3 530.8 1032.0 531.0 C1027.7 531.2 1018.7 530.3 1012.0 531.0 C1005.3 531.7 998.7 534.2 992.0 535.0 C985.3 535.8 978.7 535.8 972.0 535.6 C965.3 535.4 958.7 535.1 952.0 534.0 C945.3 532.9 938.7 530.3 932.0 529.0 C925.3 527.7 917.7 527.2 912.0 526.0 C906.3 524.8 901.3 522.3 898.0 522.0 C894.7 521.7 895.4 524.0 892.0 524.0 C888.6 524.0 879.9 522.3 877.5 522.0 Z" fill="#9999FF"/>
<path d="M877.5 508.0 C879.9 508.2 888.6 509.2 892.0 509.0 C895.4 508.8 893.0 507.2 898.0 507.0 C903.0 506.8 916.3 507.7 922.0 508.0 C927.7 508.3 926.3 508.0 932.0 509.0 C937.7 510.0 947.7 513.2 956.0 514.0 C964.3 514.8 974.3 514.1 982.0 513.6 C989.7 513.1 995.3 512.6 1002.0 511.0 C1008.7 509.4 1015.3 506.2 1022.0 504.0 C1028.7 501.8 1036.0 499.3 1042.0 498.0 C1048.0 496.7 1053.0 495.3 1058.0 496.0 C1063.0 496.7 1068.3 502.0 1072.0 502.0 C1075.7 502.0 1076.7 496.3 1080.0 496.0 C1083.3 495.7 1088.3 498.7 1092.0 500.0 C1095.7 501.3 1098.7 504.0 1102.0 504.0 C1105.3 504.0 1107.0 499.3 1112.0 500.0 C1117.0 500.7 1125.3 506.3 1132.0 508.0 C1138.7 509.7 1146.2 508.3 1152.0 510.0 C1157.8 511.7 1163.7 516.7 1167.0 518.0 C1170.3 519.3 1168.8 517.2 1172.0 518.0 C1175.2 518.8 1182.0 522.7 1186.0 523.0 C1190.0 523.3 1192.7 520.2 1196.0 520.0 C1199.3 519.8 1202.7 520.5 1206.0 522.0 C1209.3 523.5 1212.0 528.2 1216.0 529.0 C1220.0 529.8 1224.3 528.5 1230.0 527.0 C1235.7 525.5 1241.7 521.8 1250.0 520.0 C1258.3 518.2 1271.7 517.3 1280.0 516.0 C1288.3 514.7 1291.7 513.7 1300.0 512.0 C1308.3 510.3 1321.7 507.8 1330.0 506.0 C1338.3 504.2 1343.3 502.3 1350.0 501.0 C1356.7 499.7 1363.3 498.3 1370.0 498.0 C1376.7 497.7 1383.3 499.3 1390.0 499.0 C1396.7 498.7 1401.5 496.5 1410.0 496.0 C1418.5 495.5 1436.0 496.0 1441.2 496.0" fill="none" stroke="#ABABFF" stroke-width="10.5"/>
<path d="M877.5 508.0 C879.9 508.2 888.6 509.2 892.0 509.0 C895.4 508.8 893.0 507.2 898.0 507.0 C903.0 506.8 916.3 507.7 922.0 508.0 C927.7 508.3 926.3 508.0 932.0 509.0 C937.7 510.0 947.7 513.2 956.0 514.0 C964.3 514.8 974.3 514.1 982.0 513.6 C989.7 513.1 995.3 512.6 1002.0 511.0 C1008.7 509.4 1015.3 506.2 1022.0 504.0 C1028.7 501.8 1036.0 499.3 1042.0 498.0 C1048.0 496.7 1053.0 495.3 1058.0 496.0 C1063.0 496.7 1068.3 502.0 1072.0 502.0 C1075.7 502.0 1076.7 496.3 1080.0 496.0 C1083.3 495.7 1088.3 498.7 1092.0 500.0 C1095.7 501.3 1098.7 504.0 1102.0 504.0 C1105.3 504.0 1107.0 499.3 1112.0 500.0 C1117.0 500.7 1125.3 506.3 1132.0 508.0 C1138.7 509.7 1146.2 508.3 1152.0 510.0 C1157.8 511.7 1163.7 516.7 1167.0 518.0 C1170.3 519.3 1168.8 517.2 1172.0 518.0 C1175.2 518.8 1182.0 522.7 1186.0 523.0 C1190.0 523.3 1192.7 520.2 1196.0 520.0 C1199.3 519.8 1202.7 520.5 1206.0 522.0 C1209.3 523.5 1212.0 528.2 1216.0 529.0 C1220.0 529.8 1224.3 528.5 1230.0 527.0 C1235.7 525.5 1241.7 521.8 1250.0 520.0 C1258.3 518.2 1271.7 517.3 1280.0 516.0 C1288.3 514.7 1291.7 513.7 1300.0 512.0 C1308.3 510.3 1321.7 507.8 1330.0 506.0 C1338.3 504.2 1343.3 502.3 1350.0 501.0 C1356.7 499.7 1363.3 498.3 1370.0 498.0 C1376.7 497.7 1383.3 499.3 1390.0 499.0 C1396.7 498.7 1401.5 496.5 1410.0 496.0 C1418.5 495.5 1436.0 496.0 1441.2 496.0" fill="none" stroke="#0000FF" stroke-width="7.5"/>
<path d="M877.5 494.0 C879.6 494.5 886.6 497.5 890.0 497.0 C893.4 496.5 896.0 491.3 898.0 491.0 C900.0 490.7 899.7 494.8 902.0 495.0 C904.3 495.2 907.7 492.8 912.0 492.0 C916.3 491.2 923.0 490.0 928.0 490.0 C933.0 490.0 937.3 491.3 942.0 492.0 C946.7 492.7 951.0 494.2 956.0 494.0 C961.0 493.8 966.0 491.9 972.0 491.0 C978.0 490.1 986.0 489.4 992.0 488.4 C998.0 487.4 1003.3 486.7 1008.0 485.0 C1012.7 483.3 1016.0 480.0 1020.0 478.0 C1024.0 476.0 1027.3 475.3 1032.0 473.0 C1036.7 470.7 1042.7 466.5 1048.0 464.0 C1053.3 461.5 1059.3 458.8 1064.0 458.0 C1068.7 457.2 1073.3 460.2 1076.0 459.0 C1078.7 457.8 1077.3 452.3 1080.0 451.0 C1082.7 449.7 1088.3 450.8 1092.0 451.0 C1095.7 451.2 1098.7 452.8 1102.0 452.0 C1105.3 451.2 1107.0 447.0 1112.0 446.0 C1117.0 445.0 1125.3 446.0 1132.0 446.0 C1138.7 446.0 1146.2 446.2 1152.0 446.0 C1157.8 445.8 1164.0 444.5 1167.0 445.0 C1170.0 445.5 1166.8 448.5 1170.0 449.0 C1173.2 449.5 1182.0 448.8 1186.0 448.0 C1190.0 447.2 1191.0 444.3 1194.0 444.0 C1197.0 443.7 1199.0 445.8 1204.0 446.0 C1209.0 446.2 1216.3 446.7 1224.0 445.0 C1231.7 443.3 1240.7 438.2 1250.0 436.0 C1259.3 433.8 1271.7 433.2 1280.0 432.0 C1288.3 430.8 1291.7 430.2 1300.0 429.0 C1308.3 427.8 1320.0 426.7 1330.0 425.0 C1340.0 423.3 1351.7 420.3 1360.0 419.0 C1368.3 417.7 1374.0 417.0 1380.0 417.0 C1386.0 417.0 1389.3 419.3 1396.0 419.0 C1402.7 418.7 1412.5 415.8 1420.0 415.0 C1427.5 414.2 1437.7 414.2 1441.2 414.0 L1441.2 576.0 C1437.7 576.3 1426.9 577.2 1420.0 578.0 C1413.1 578.8 1408.3 580.7 1400.0 581.0 C1391.7 581.3 1378.3 579.7 1370.0 580.0 C1361.7 580.3 1358.3 581.2 1350.0 583.0 C1341.7 584.8 1328.3 588.8 1320.0 591.0 C1311.7 593.2 1306.7 594.3 1300.0 596.0 C1293.3 597.7 1286.7 599.3 1280.0 601.0 C1273.3 602.7 1266.7 604.8 1260.0 606.0 C1253.3 607.2 1247.3 607.5 1240.0 608.0 C1232.7 608.5 1221.3 610.5 1216.0 609.0 C1210.7 607.5 1211.3 601.3 1208.0 599.0 C1204.7 596.7 1199.3 595.0 1196.0 595.0 C1192.7 595.0 1190.7 600.3 1188.0 599.0 C1185.3 597.7 1183.0 588.8 1180.0 587.0 C1177.0 585.2 1172.2 587.7 1170.0 588.0 C1167.8 588.3 1168.7 589.7 1167.0 589.0 C1165.3 588.3 1163.2 586.8 1160.0 584.0 C1156.8 581.2 1152.0 573.8 1148.0 572.0 C1144.0 570.2 1140.3 574.7 1136.0 573.0 C1131.7 571.3 1126.0 565.2 1122.0 562.0 C1118.0 558.8 1115.3 555.3 1112.0 554.0 C1108.7 552.7 1106.0 554.7 1102.0 554.0 C1098.0 553.3 1091.7 552.2 1088.0 550.0 C1084.3 547.8 1082.3 542.0 1080.0 541.0 C1077.7 540.0 1076.7 545.0 1074.0 544.0 C1071.3 543.0 1066.7 537.0 1064.0 535.0 C1061.3 533.0 1062.3 532.8 1058.0 532.0 C1053.7 531.2 1042.3 530.2 1038.0 530.0 C1033.7 529.8 1036.3 530.8 1032.0 531.0 C1027.7 531.2 1018.7 530.3 1012.0 531.0 C1005.3 531.7 998.7 534.2 992.0 535.0 C985.3 535.8 978.7 535.8 972.0 535.6 C965.3 535.4 958.7 535.1 952.0 534.0 C945.3 532.9 938.7 530.3 932.0 529.0 C925.3 527.7 917.7 527.2 912.0 526.0 C906.3 524.8 901.3 522.3 898.0 522.0 C894.7 521.7 895.4 524.0 892.0 524.0 C888.6 524.0 879.9 522.3 877.5 522.0 Z" fill="none" stroke="#000" stroke-width="2.4" stroke-linejoin="round"/>
<path d="M877.5 415.4 V610.8 H1441.2" fill="none" stroke="#111" stroke-width="2.2"/>
<path d="M877.5 446.6 h5.5 M877.5 483.6 h5.5 M877.5 521.0 h5.5 M877.5 558.4 h5.5 M877.5 596.6 h5.5 M877.5 610.8 v-5.5 M1159.3 610.8 v-5.5 M1441.2 610.8 v-5.5" stroke="#111" stroke-width="2.2"/>
<text transform="translate(866.5 461.6) scale(1 1.07)" font-size="40" text-anchor="end">40</text>
<text transform="translate(866.5 498.6) scale(1 1.07)" font-size="40" text-anchor="end">20</text>
<text transform="translate(866.5 536.0) scale(1 1.07)" font-size="40" text-anchor="end">0</text>
<text transform="translate(866.5 573.4) scale(1 1.07)" font-size="40" text-anchor="end">-20</text>
<text transform="translate(866.5 611.6) scale(1 1.07)" font-size="40" text-anchor="end">-40</text>
<text transform="translate(876.5 659.3) scale(1 1.07)" font-size="40" text-anchor="middle">0</text>
<text transform="translate(1159.8 659.3) scale(1 1.07)" font-size="40" text-anchor="middle">50</text>
<text transform="translate(1443.0 659.3) scale(1 1.07)" font-size="40" text-anchor="middle">100</text>
<text transform="translate(1159.3 397.7) scale(1 1.05)" font-size="44" font-weight="bold" text-anchor="middle">Varus-Valgus Actuator</text>
<text transform="translate(1159.3 710.0) scale(1 1.04)" font-size="44" text-anchor="middle">Percent of Cycle</text>
<text transform="translate(796.1 513.1) rotate(-90) scale(1 1.04)" font-size="44" text-anchor="middle">Force (N)</text>
</g>
<g>
<path d="M135.5 781.6 C136.5 781.5 139.5 781.2 141.5 780.9 C143.5 780.7 145.5 780.5 147.5 780.3 C149.5 780.1 151.5 779.9 153.5 779.7 C155.5 779.6 157.5 779.4 159.5 779.2 C161.5 779.1 163.5 778.9 165.5 778.8 C167.5 778.6 169.5 778.5 171.5 778.4 C173.5 778.3 175.5 778.2 177.5 778.1 C179.5 778.0 181.5 777.9 183.5 777.9 C185.5 777.8 187.5 777.7 189.5 777.7 C191.5 777.7 193.5 777.9 195.5 778.0 C197.5 778.1 199.5 778.3 201.5 778.4 C203.5 778.6 205.5 778.7 207.5 778.9 C209.5 779.1 211.5 779.3 213.5 779.6 C215.5 779.9 217.5 780.3 219.5 780.6 C221.5 781.0 223.5 781.3 225.5 781.6 C227.5 782.0 229.5 782.4 231.5 782.9 C233.5 783.4 235.5 784.0 237.5 784.5 C239.5 785.0 241.5 785.6 243.5 786.2 C245.5 786.8 247.5 787.3 249.5 787.9 C251.5 788.6 253.5 789.2 255.5 789.9 C257.5 790.6 259.5 791.3 261.5 792.0 C263.5 792.7 265.5 793.4 267.5 794.1 C269.5 794.9 271.5 795.6 273.5 796.4 C275.5 797.2 277.5 798.0 279.5 798.8 C281.5 799.6 283.5 800.4 285.5 801.2 C287.5 801.9 289.5 802.7 291.5 803.3 C293.5 803.9 295.5 804.4 297.5 804.9 C299.5 805.4 301.5 805.9 303.5 806.4 C305.5 806.9 307.5 807.4 309.5 807.8 C311.5 808.3 313.5 808.7 315.5 809.1 C317.5 809.5 319.5 809.9 321.5 810.3 C323.5 810.7 325.5 811.1 327.5 811.5 C329.5 811.9 331.5 812.4 333.5 812.9 C335.5 813.4 337.5 813.9 339.5 814.4 C341.5 814.9 343.5 815.4 345.5 815.9 C347.5 816.4 349.5 816.9 351.5 817.5 C353.5 818.0 355.5 818.7 357.5 819.3 C359.5 819.8 361.5 820.5 363.5 821.1 C365.5 821.6 367.5 822.3 369.5 822.9 C371.5 823.5 373.5 824.1 375.5 824.7 C377.5 825.2 379.5 825.9 381.5 826.4 C383.5 827.0 385.5 827.7 387.5 828.2 C389.5 828.8 391.5 829.3 393.5 829.9 C395.5 830.4 397.5 830.9 399.5 831.4 C401.5 831.9 403.5 832.4 405.5 832.9 C407.5 833.4 409.5 833.9 411.5 834.4 C413.5 834.9 415.5 835.5 417.5 836.0 C419.5 836.5 421.5 837.1 423.5 837.5 C425.5 838.0 427.5 838.3 429.5 838.6 C431.5 838.9 433.5 839.1 435.5 839.4 C437.5 839.6 439.5 839.9 441.5 840.1 C443.5 840.3 445.5 840.5 447.5 840.6 C449.5 840.8 451.5 841.0 453.5 841.1 C455.5 841.3 457.5 841.4 459.5 841.6 C461.5 841.9 463.5 842.2 465.5 842.6 C467.5 843.1 469.5 843.7 471.5 844.3 C473.5 844.9 475.5 845.6 477.5 846.2 C479.5 846.8 481.5 847.4 483.5 848.0 C485.5 848.7 487.5 849.3 489.5 849.9 C491.5 850.4 493.5 851.1 495.5 851.6 C497.5 852.2 499.5 852.7 501.5 853.1 C503.5 853.6 505.5 853.8 507.5 854.1 C509.5 854.4 511.5 854.7 513.5 855.0 C515.5 855.3 517.5 855.6 519.5 855.9 C521.5 856.1 523.5 856.2 525.5 856.4 C527.5 856.6 529.5 856.7 531.5 856.9 C533.5 857.0 535.5 857.2 537.5 857.3 C539.5 857.5 541.5 857.6 543.5 857.8 C545.5 857.9 547.5 858.1 549.5 858.2 C551.5 858.4 553.5 858.5 555.5 858.7 C557.5 858.8 559.5 859.0 561.5 859.1 C563.5 859.3 565.5 859.4 567.5 859.6 C569.5 859.7 571.5 859.9 573.5 860.0 C575.5 860.2 577.5 860.3 579.5 860.5 C581.5 860.6 583.5 860.8 585.5 860.9 C587.5 861.1 589.5 861.2 591.5 861.4 C593.5 861.5 595.5 861.7 597.5 861.8 C599.5 862.0 601.5 862.1 603.5 862.3 C605.5 862.5 607.5 862.7 609.5 862.9 C611.5 863.0 613.5 863.2 615.5 863.4 C617.5 863.6 619.5 863.8 621.5 863.9 C623.5 864.1 625.5 864.3 627.5 864.5 C629.5 864.7 631.5 864.8 633.5 865.0 C635.5 865.2 637.5 865.4 639.5 865.5 C641.5 865.7 643.5 865.9 645.5 866.0 C647.5 866.2 649.5 866.4 651.5 866.5 C653.5 866.7 655.5 866.8 657.5 867.0 C659.5 867.2 661.5 867.3 663.5 867.5 C665.5 867.6 667.5 867.8 669.5 867.9 C671.5 868.1 673.5 868.2 675.5 868.4 C677.5 868.5 679.5 868.7 681.5 868.8 C683.5 868.9 685.5 869.1 687.5 869.2 C689.5 869.3 691.7 869.5 693.5 869.6 C695.3 869.7 697.7 869.9 698.5 870.0 L698.5 975.0 C697.7 975.0 695.3 974.9 693.5 974.8 C691.7 974.7 689.5 974.7 687.5 974.6 C685.5 974.5 683.5 974.5 681.5 974.4 C679.5 974.3 677.5 974.3 675.5 974.2 C673.5 974.1 671.5 974.1 669.5 974.0 C667.5 973.9 665.5 973.9 663.5 973.8 C661.5 973.7 659.5 973.7 657.5 973.6 C655.5 973.5 653.5 973.4 651.5 973.4 C649.5 973.3 647.5 973.2 645.5 973.2 C643.5 973.1 641.5 973.1 639.5 973.0 C637.5 972.9 635.5 972.9 633.5 972.8 C631.5 972.8 629.5 972.7 627.5 972.7 C625.5 972.6 623.5 972.6 621.5 972.5 C619.5 972.5 617.5 972.4 615.5 972.4 C613.5 972.3 611.5 972.3 609.5 972.2 C607.5 972.2 605.5 972.1 603.5 972.1 C601.5 972.0 599.5 972.0 597.5 971.9 C595.5 971.8 593.5 971.7 591.5 971.6 C589.5 971.5 587.5 971.4 585.5 971.3 C583.5 971.2 581.5 971.1 579.5 971.0 C577.5 970.9 575.5 970.8 573.5 970.7 C571.5 970.6 569.5 970.5 567.5 970.4 C565.5 970.3 563.5 970.2 561.5 970.1 C559.5 969.9 557.5 969.8 555.5 969.7 C553.5 969.5 551.5 969.4 549.5 969.2 C547.5 969.1 545.5 968.9 543.5 968.8 C541.5 968.6 539.5 968.5 537.5 968.3 C535.5 968.2 533.5 968.0 531.5 967.9 C529.5 967.7 527.5 967.6 525.5 967.4 C523.5 967.2 521.5 967.1 519.5 966.9 C517.5 966.6 515.5 966.3 513.5 966.0 C511.5 965.7 509.5 965.4 507.5 965.1 C505.5 964.8 503.5 964.5 501.5 964.2 C499.5 963.9 497.5 963.5 495.5 963.1 C493.5 962.7 491.5 962.3 489.5 961.9 C487.5 961.5 485.5 961.1 483.5 960.7 C481.5 960.3 479.5 959.9 477.5 959.5 C475.5 959.1 473.5 958.7 471.5 958.3 C469.5 957.9 467.5 957.6 465.5 957.3 C463.5 956.9 461.5 956.6 459.5 956.3 C457.5 955.9 455.5 955.6 453.5 955.3 C451.5 954.9 449.5 954.6 447.5 954.2 C445.5 953.9 443.5 953.6 441.5 953.2 C439.5 952.9 437.5 952.5 435.5 952.1 C433.5 951.7 431.5 951.3 429.5 950.9 C427.5 950.5 425.5 950.0 423.5 949.6 C421.5 949.1 419.5 948.5 417.5 948.0 C415.5 947.5 413.5 946.9 411.5 946.4 C409.5 945.8 407.5 945.2 405.5 944.6 C403.5 944.1 401.5 943.5 399.5 942.9 C397.5 942.2 395.5 941.7 393.5 941.0 C391.5 940.4 389.5 939.8 387.5 939.1 C385.5 938.4 383.5 937.7 381.5 937.0 C379.5 936.2 377.5 935.4 375.5 934.3 C373.5 933.3 371.5 931.9 369.5 930.5 C367.5 929.2 365.5 927.9 363.5 926.3 C361.5 924.7 359.5 923.0 357.5 921.0 C355.5 919.0 353.5 916.6 351.5 914.3 C349.5 912.0 347.5 909.7 345.5 907.4 C343.5 905.0 341.5 902.6 339.5 900.3 C337.5 897.9 335.5 895.5 333.5 893.2 C331.5 890.8 329.5 888.4 327.5 886.0 C325.5 883.7 323.5 881.3 321.5 878.9 C319.5 876.5 317.5 874.1 315.5 871.8 C313.5 869.5 311.5 867.2 309.5 864.9 C307.5 862.6 305.5 860.3 303.5 858.0 C301.5 855.8 299.5 853.5 297.5 851.3 C295.5 849.2 293.5 847.0 291.5 844.9 C289.5 842.8 287.5 840.7 285.5 838.9 C283.5 837.1 281.5 835.7 279.5 834.1 C277.5 832.6 275.5 831.1 273.5 829.7 C271.5 828.3 269.5 826.9 267.5 825.7 C265.5 824.5 263.5 823.4 261.5 822.3 C259.5 821.2 257.5 820.1 255.5 819.0 C253.5 818.0 251.5 816.9 249.5 815.9 C247.5 815.0 245.5 814.2 243.5 813.4 C241.5 812.6 239.5 811.8 237.5 811.0 C235.5 810.2 233.5 809.4 231.5 808.7 C229.5 807.9 227.5 807.3 225.5 806.7 C223.5 806.0 221.5 805.4 219.5 804.9 C217.5 804.3 215.5 803.6 213.5 803.1 C211.5 802.5 209.5 802.0 207.5 801.5 C205.5 801.1 203.5 800.7 201.5 800.3 C199.5 799.9 197.5 799.5 195.5 799.1 C193.5 798.7 191.5 798.3 189.5 797.9 C187.5 797.5 185.5 797.1 183.5 796.7 C181.5 796.3 179.5 795.9 177.5 795.5 C175.5 795.1 173.5 794.7 171.5 794.3 C169.5 794.0 167.5 793.7 165.5 793.5 C163.5 793.2 161.5 793.0 159.5 792.7 C157.5 792.5 155.5 792.3 153.5 792.0 C151.5 791.8 149.5 791.6 147.5 791.3 C145.5 791.1 143.5 790.9 141.5 790.7 C139.5 790.4 136.5 790.1 135.5 790.0 Z" fill="#9999FF"/>
<path d="M135.5 787.0 C136.5 786.9 139.5 786.4 141.5 786.2 C143.5 785.9 145.5 785.6 147.5 785.4 C149.5 785.2 151.5 785.1 153.5 785.0 C155.5 785.0 157.5 785.0 159.5 785.0 C161.5 785.0 163.5 785.0 165.5 785.0 C167.5 785.0 169.5 785.1 171.5 785.2 C173.5 785.3 175.5 785.6 177.5 785.8 C179.5 785.9 181.5 786.1 183.5 786.4 C185.5 786.6 187.5 786.8 189.5 787.0 C191.5 787.3 193.5 787.6 195.5 787.9 C197.5 788.3 199.5 788.6 201.5 789.0 C203.5 789.3 205.5 789.6 207.5 790.0 C209.5 790.4 211.5 790.8 213.5 791.2 C215.5 791.6 217.5 792.1 219.5 792.6 C221.5 793.0 223.5 793.5 225.5 794.0 C227.5 794.5 229.5 795.0 231.5 795.6 C233.5 796.2 235.5 796.9 237.5 797.6 C239.5 798.3 241.5 799.0 243.5 799.7 C245.5 800.5 247.5 801.1 249.5 802.0 C251.5 802.8 253.5 803.8 255.5 804.8 C257.5 805.7 259.5 806.7 261.5 807.8 C263.5 808.8 265.5 809.7 267.5 810.8 C269.5 811.8 271.5 813.0 273.5 814.1 C275.5 815.3 277.5 816.5 279.5 817.7 C281.5 818.9 283.5 820.1 285.5 821.3 C287.5 822.5 289.5 823.7 291.5 825.0 C293.5 826.3 295.5 827.6 297.5 828.9 C299.5 830.2 301.5 831.5 303.5 832.8 C305.5 834.1 307.5 835.4 309.5 836.7 C311.5 838.1 313.5 839.5 315.5 840.9 C317.5 842.2 319.5 843.6 321.5 845.1 C323.5 846.5 325.5 847.8 327.5 849.3 C329.5 850.7 331.5 852.2 333.5 853.6 C335.5 855.1 337.5 856.6 339.5 858.1 C341.5 859.6 343.5 861.2 345.5 862.6 C347.5 864.0 349.5 865.5 351.5 866.7 C353.5 868.0 355.5 869.0 357.5 870.1 C359.5 871.2 361.5 872.4 363.5 873.4 C365.5 874.5 367.5 875.6 369.5 876.5 C371.5 877.4 373.5 878.2 375.5 878.9 C377.5 879.7 379.5 880.3 381.5 881.0 C383.5 881.7 385.5 882.4 387.5 883.1 C389.5 883.8 391.5 884.4 393.5 885.0 C395.5 885.7 397.5 886.2 399.5 886.9 C401.5 887.5 403.5 888.1 405.5 888.6 C407.5 889.2 409.5 889.8 411.5 890.4 C413.5 890.9 415.5 891.5 417.5 892.0 C419.5 892.5 421.5 893.1 423.5 893.5 C425.5 894.0 427.5 894.3 429.5 894.6 C431.5 894.9 433.5 895.1 435.5 895.4 C437.5 895.7 439.5 895.9 441.5 896.2 C443.5 896.4 445.5 896.7 447.5 896.9 C449.5 897.2 451.5 897.4 453.5 897.7 C455.5 897.9 457.5 898.2 459.5 898.4 C461.5 898.7 463.5 899.0 465.5 899.3 C467.5 899.6 469.5 900.0 471.5 900.4 C473.5 900.8 475.5 901.1 477.5 901.6 C479.5 902.0 481.5 902.6 483.5 903.2 C485.5 903.8 487.5 904.5 489.5 905.2 C491.5 905.8 493.5 906.5 495.5 907.2 C497.5 907.8 499.5 908.6 501.5 909.1 C503.5 909.6 505.5 910.1 507.5 910.4 C509.5 910.7 511.5 910.9 513.5 911.2 C515.5 911.4 517.5 911.7 519.5 911.9 C521.5 912.0 523.5 912.2 525.5 912.3 C527.5 912.4 529.5 912.5 531.5 912.6 C533.5 912.7 535.5 912.8 537.5 912.9 C539.5 913.0 541.5 913.1 543.5 913.2 C545.5 913.3 547.5 913.4 549.5 913.5 C551.5 913.6 553.5 913.7 555.5 913.8 C557.5 913.9 559.5 914.0 561.5 914.1 C563.5 914.2 565.5 914.3 567.5 914.5 C569.5 914.6 571.5 914.7 573.5 914.8 C575.5 914.9 577.5 915.1 579.5 915.2 C581.5 915.3 583.5 915.4 585.5 915.5 C587.5 915.7 589.5 915.8 591.5 915.9 C593.5 916.0 595.5 916.1 597.5 916.3 C599.5 916.4 601.5 916.5 603.5 916.6 C605.5 916.8 607.5 916.9 609.5 917.0 C611.5 917.1 613.5 917.3 615.5 917.4 C617.5 917.5 619.5 917.7 621.5 917.8 C623.5 917.9 625.5 918.1 627.5 918.2 C629.5 918.3 631.5 918.4 633.5 918.6 C635.5 918.7 637.5 918.8 639.5 919.0 C641.5 919.1 643.5 919.2 645.5 919.4 C647.5 919.5 649.5 919.6 651.5 919.8 C653.5 919.9 655.5 920.0 657.5 920.2 C659.5 920.3 661.5 920.4 663.5 920.6 C665.5 920.7 667.5 920.8 669.5 920.9 C671.5 921.0 673.5 921.1 675.5 921.2 C677.5 921.3 679.5 921.3 681.5 921.4 C683.5 921.5 685.5 921.5 687.5 921.6 C689.5 921.7 691.7 921.7 693.5 921.8 C695.3 921.9 697.7 922.0 698.5 922.0" fill="none" stroke="#ABABFF" stroke-width="10.5"/>
<path d="M135.5 787.0 C136.5 786.9 139.5 786.4 141.5 786.2 C143.5 785.9 145.5 785.6 147.5 785.4 C149.5 785.2 151.5 785.1 153.5 785.0 C155.5 785.0 157.5 785.0 159.5 785.0 C161.5 785.0 163.5 785.0 165.5 785.0 C167.5 785.0 169.5 785.1 171.5 785.2 C173.5 785.3 175.5 785.6 177.5 785.8 C179.5 785.9 181.5 786.1 183.5 786.4 C185.5 786.6 187.5 786.8 189.5 787.0 C191.5 787.3 193.5 787.6 195.5 787.9 C197.5 788.3 199.5 788.6 201.5 789.0 C203.5 789.3 205.5 789.6 207.5 790.0 C209.5 790.4 211.5 790.8 213.5 791.2 C215.5 791.6 217.5 792.1 219.5 792.6 C221.5 793.0 223.5 793.5 225.5 794.0 C227.5 794.5 229.5 795.0 231.5 795.6 C233.5 796.2 235.5 796.9 237.5 797.6 C239.5 798.3 241.5 799.0 243.5 799.7 C245.5 800.5 247.5 801.1 249.5 802.0 C251.5 802.8 253.5 803.8 255.5 804.8 C257.5 805.7 259.5 806.7 261.5 807.8 C263.5 808.8 265.5 809.7 267.5 810.8 C269.5 811.8 271.5 813.0 273.5 814.1 C275.5 815.3 277.5 816.5 279.5 817.7 C281.5 818.9 283.5 820.1 285.5 821.3 C287.5 822.5 289.5 823.7 291.5 825.0 C293.5 826.3 295.5 827.6 297.5 828.9 C299.5 830.2 301.5 831.5 303.5 832.8 C305.5 834.1 307.5 835.4 309.5 836.7 C311.5 838.1 313.5 839.5 315.5 840.9 C317.5 842.2 319.5 843.6 321.5 845.1 C323.5 846.5 325.5 847.8 327.5 849.3 C329.5 850.7 331.5 852.2 333.5 853.6 C335.5 855.1 337.5 856.6 339.5 858.1 C341.5 859.6 343.5 861.2 345.5 862.6 C347.5 864.0 349.5 865.5 351.5 866.7 C353.5 868.0 355.5 869.0 357.5 870.1 C359.5 871.2 361.5 872.4 363.5 873.4 C365.5 874.5 367.5 875.6 369.5 876.5 C371.5 877.4 373.5 878.2 375.5 878.9 C377.5 879.7 379.5 880.3 381.5 881.0 C383.5 881.7 385.5 882.4 387.5 883.1 C389.5 883.8 391.5 884.4 393.5 885.0 C395.5 885.7 397.5 886.2 399.5 886.9 C401.5 887.5 403.5 888.1 405.5 888.6 C407.5 889.2 409.5 889.8 411.5 890.4 C413.5 890.9 415.5 891.5 417.5 892.0 C419.5 892.5 421.5 893.1 423.5 893.5 C425.5 894.0 427.5 894.3 429.5 894.6 C431.5 894.9 433.5 895.1 435.5 895.4 C437.5 895.7 439.5 895.9 441.5 896.2 C443.5 896.4 445.5 896.7 447.5 896.9 C449.5 897.2 451.5 897.4 453.5 897.7 C455.5 897.9 457.5 898.2 459.5 898.4 C461.5 898.7 463.5 899.0 465.5 899.3 C467.5 899.6 469.5 900.0 471.5 900.4 C473.5 900.8 475.5 901.1 477.5 901.6 C479.5 902.0 481.5 902.6 483.5 903.2 C485.5 903.8 487.5 904.5 489.5 905.2 C491.5 905.8 493.5 906.5 495.5 907.2 C497.5 907.8 499.5 908.6 501.5 909.1 C503.5 909.6 505.5 910.1 507.5 910.4 C509.5 910.7 511.5 910.9 513.5 911.2 C515.5 911.4 517.5 911.7 519.5 911.9 C521.5 912.0 523.5 912.2 525.5 912.3 C527.5 912.4 529.5 912.5 531.5 912.6 C533.5 912.7 535.5 912.8 537.5 912.9 C539.5 913.0 541.5 913.1 543.5 913.2 C545.5 913.3 547.5 913.4 549.5 913.5 C551.5 913.6 553.5 913.7 555.5 913.8 C557.5 913.9 559.5 914.0 561.5 914.1 C563.5 914.2 565.5 914.3 567.5 914.5 C569.5 914.6 571.5 914.7 573.5 914.8 C575.5 914.9 577.5 915.1 579.5 915.2 C581.5 915.3 583.5 915.4 585.5 915.5 C587.5 915.7 589.5 915.8 591.5 915.9 C593.5 916.0 595.5 916.1 597.5 916.3 C599.5 916.4 601.5 916.5 603.5 916.6 C605.5 916.8 607.5 916.9 609.5 917.0 C611.5 917.1 613.5 917.3 615.5 917.4 C617.5 917.5 619.5 917.7 621.5 917.8 C623.5 917.9 625.5 918.1 627.5 918.2 C629.5 918.3 631.5 918.4 633.5 918.6 C635.5 918.7 637.5 918.8 639.5 919.0 C641.5 919.1 643.5 919.2 645.5 919.4 C647.5 919.5 649.5 919.6 651.5 919.8 C653.5 919.9 655.5 920.0 657.5 920.2 C659.5 920.3 661.5 920.4 663.5 920.6 C665.5 920.7 667.5 920.8 669.5 920.9 C671.5 921.0 673.5 921.1 675.5 921.2 C677.5 921.3 679.5 921.3 681.5 921.4 C683.5 921.5 685.5 921.5 687.5 921.6 C689.5 921.7 691.7 921.7 693.5 921.8 C695.3 921.9 697.7 922.0 698.5 922.0" fill="none" stroke="#0000FF" stroke-width="7.5"/>
<path d="M135.5 781.6 C136.5 781.5 139.5 781.2 141.5 780.9 C143.5 780.7 145.5 780.5 147.5 780.3 C149.5 780.1 151.5 779.9 153.5 779.7 C155.5 779.6 157.5 779.4 159.5 779.2 C161.5 779.1 163.5 778.9 165.5 778.8 C167.5 778.6 169.5 778.5 171.5 778.4 C173.5 778.3 175.5 778.2 177.5 778.1 C179.5 778.0 181.5 777.9 183.5 777.9 C185.5 777.8 187.5 777.7 189.5 777.7 C191.5 777.7 193.5 777.9 195.5 778.0 C197.5 778.1 199.5 778.3 201.5 778.4 C203.5 778.6 205.5 778.7 207.5 778.9 C209.5 779.1 211.5 779.3 213.5 779.6 C215.5 779.9 217.5 780.3 219.5 780.6 C221.5 781.0 223.5 781.3 225.5 781.6 C227.5 782.0 229.5 782.4 231.5 782.9 C233.5 783.4 235.5 784.0 237.5 784.5 C239.5 785.0 241.5 785.6 243.5 786.2 C245.5 786.8 247.5 787.3 249.5 787.9 C251.5 788.6 253.5 789.2 255.5 789.9 C257.5 790.6 259.5 791.3 261.5 792.0 C263.5 792.7 265.5 793.4 267.5 794.1 C269.5 794.9 271.5 795.6 273.5 796.4 C275.5 797.2 277.5 798.0 279.5 798.8 C281.5 799.6 283.5 800.4 285.5 801.2 C287.5 801.9 289.5 802.7 291.5 803.3 C293.5 803.9 295.5 804.4 297.5 804.9 C299.5 805.4 301.5 805.9 303.5 806.4 C305.5 806.9 307.5 807.4 309.5 807.8 C311.5 808.3 313.5 808.7 315.5 809.1 C317.5 809.5 319.5 809.9 321.5 810.3 C323.5 810.7 325.5 811.1 327.5 811.5 C329.5 811.9 331.5 812.4 333.5 812.9 C335.5 813.4 337.5 813.9 339.5 814.4 C341.5 814.9 343.5 815.4 345.5 815.9 C347.5 816.4 349.5 816.9 351.5 817.5 C353.5 818.0 355.5 818.7 357.5 819.3 C359.5 819.8 361.5 820.5 363.5 821.1 C365.5 821.6 367.5 822.3 369.5 822.9 C371.5 823.5 373.5 824.1 375.5 824.7 C377.5 825.2 379.5 825.9 381.5 826.4 C383.5 827.0 385.5 827.7 387.5 828.2 C389.5 828.8 391.5 829.3 393.5 829.9 C395.5 830.4 397.5 830.9 399.5 831.4 C401.5 831.9 403.5 832.4 405.5 832.9 C407.5 833.4 409.5 833.9 411.5 834.4 C413.5 834.9 415.5 835.5 417.5 836.0 C419.5 836.5 421.5 837.1 423.5 837.5 C425.5 838.0 427.5 838.3 429.5 838.6 C431.5 838.9 433.5 839.1 435.5 839.4 C437.5 839.6 439.5 839.9 441.5 840.1 C443.5 840.3 445.5 840.5 447.5 840.6 C449.5 840.8 451.5 841.0 453.5 841.1 C455.5 841.3 457.5 841.4 459.5 841.6 C461.5 841.9 463.5 842.2 465.5 842.6 C467.5 843.1 469.5 843.7 471.5 844.3 C473.5 844.9 475.5 845.6 477.5 846.2 C479.5 846.8 481.5 847.4 483.5 848.0 C485.5 848.7 487.5 849.3 489.5 849.9 C491.5 850.4 493.5 851.1 495.5 851.6 C497.5 852.2 499.5 852.7 501.5 853.1 C503.5 853.6 505.5 853.8 507.5 854.1 C509.5 854.4 511.5 854.7 513.5 855.0 C515.5 855.3 517.5 855.6 519.5 855.9 C521.5 856.1 523.5 856.2 525.5 856.4 C527.5 856.6 529.5 856.7 531.5 856.9 C533.5 857.0 535.5 857.2 537.5 857.3 C539.5 857.5 541.5 857.6 543.5 857.8 C545.5 857.9 547.5 858.1 549.5 858.2 C551.5 858.4 553.5 858.5 555.5 858.7 C557.5 858.8 559.5 859.0 561.5 859.1 C563.5 859.3 565.5 859.4 567.5 859.6 C569.5 859.7 571.5 859.9 573.5 860.0 C575.5 860.2 577.5 860.3 579.5 860.5 C581.5 860.6 583.5 860.8 585.5 860.9 C587.5 861.1 589.5 861.2 591.5 861.4 C593.5 861.5 595.5 861.7 597.5 861.8 C599.5 862.0 601.5 862.1 603.5 862.3 C605.5 862.5 607.5 862.7 609.5 862.9 C611.5 863.0 613.5 863.2 615.5 863.4 C617.5 863.6 619.5 863.8 621.5 863.9 C623.5 864.1 625.5 864.3 627.5 864.5 C629.5 864.7 631.5 864.8 633.5 865.0 C635.5 865.2 637.5 865.4 639.5 865.5 C641.5 865.7 643.5 865.9 645.5 866.0 C647.5 866.2 649.5 866.4 651.5 866.5 C653.5 866.7 655.5 866.8 657.5 867.0 C659.5 867.2 661.5 867.3 663.5 867.5 C665.5 867.6 667.5 867.8 669.5 867.9 C671.5 868.1 673.5 868.2 675.5 868.4 C677.5 868.5 679.5 868.7 681.5 868.8 C683.5 868.9 685.5 869.1 687.5 869.2 C689.5 869.3 691.7 869.5 693.5 869.6 C695.3 869.7 697.7 869.9 698.5 870.0 L698.5 975.0 C697.7 975.0 695.3 974.9 693.5 974.8 C691.7 974.7 689.5 974.7 687.5 974.6 C685.5 974.5 683.5 974.5 681.5 974.4 C679.5 974.3 677.5 974.3 675.5 974.2 C673.5 974.1 671.5 974.1 669.5 974.0 C667.5 973.9 665.5 973.9 663.5 973.8 C661.5 973.7 659.5 973.7 657.5 973.6 C655.5 973.5 653.5 973.4 651.5 973.4 C649.5 973.3 647.5 973.2 645.5 973.2 C643.5 973.1 641.5 973.1 639.5 973.0 C637.5 972.9 635.5 972.9 633.5 972.8 C631.5 972.8 629.5 972.7 627.5 972.7 C625.5 972.6 623.5 972.6 621.5 972.5 C619.5 972.5 617.5 972.4 615.5 972.4 C613.5 972.3 611.5 972.3 609.5 972.2 C607.5 972.2 605.5 972.1 603.5 972.1 C601.5 972.0 599.5 972.0 597.5 971.9 C595.5 971.8 593.5 971.7 591.5 971.6 C589.5 971.5 587.5 971.4 585.5 971.3 C583.5 971.2 581.5 971.1 579.5 971.0 C577.5 970.9 575.5 970.8 573.5 970.7 C571.5 970.6 569.5 970.5 567.5 970.4 C565.5 970.3 563.5 970.2 561.5 970.1 C559.5 969.9 557.5 969.8 555.5 969.7 C553.5 969.5 551.5 969.4 549.5 969.2 C547.5 969.1 545.5 968.9 543.5 968.8 C541.5 968.6 539.5 968.5 537.5 968.3 C535.5 968.2 533.5 968.0 531.5 967.9 C529.5 967.7 527.5 967.6 525.5 967.4 C523.5 967.2 521.5 967.1 519.5 966.9 C517.5 966.6 515.5 966.3 513.5 966.0 C511.5 965.7 509.5 965.4 507.5 965.1 C505.5 964.8 503.5 964.5 501.5 964.2 C499.5 963.9 497.5 963.5 495.5 963.1 C493.5 962.7 491.5 962.3 489.5 961.9 C487.5 961.5 485.5 961.1 483.5 960.7 C481.5 960.3 479.5 959.9 477.5 959.5 C475.5 959.1 473.5 958.7 471.5 958.3 C469.5 957.9 467.5 957.6 465.5 957.3 C463.5 956.9 461.5 956.6 459.5 956.3 C457.5 955.9 455.5 955.6 453.5 955.3 C451.5 954.9 449.5 954.6 447.5 954.2 C445.5 953.9 443.5 953.6 441.5 953.2 C439.5 952.9 437.5 952.5 435.5 952.1 C433.5 951.7 431.5 951.3 429.5 950.9 C427.5 950.5 425.5 950.0 423.5 949.6 C421.5 949.1 419.5 948.5 417.5 948.0 C415.5 947.5 413.5 946.9 411.5 946.4 C409.5 945.8 407.5 945.2 405.5 944.6 C403.5 944.1 401.5 943.5 399.5 942.9 C397.5 942.2 395.5 941.7 393.5 941.0 C391.5 940.4 389.5 939.8 387.5 939.1 C385.5 938.4 383.5 937.7 381.5 937.0 C379.5 936.2 377.5 935.4 375.5 934.3 C373.5 933.3 371.5 931.9 369.5 930.5 C367.5 929.2 365.5 927.9 363.5 926.3 C361.5 924.7 359.5 923.0 357.5 921.0 C355.5 919.0 353.5 916.6 351.5 914.3 C349.5 912.0 347.5 909.7 345.5 907.4 C343.5 905.0 341.5 902.6 339.5 900.3 C337.5 897.9 335.5 895.5 333.5 893.2 C331.5 890.8 329.5 888.4 327.5 886.0 C325.5 883.7 323.5 881.3 321.5 878.9 C319.5 876.5 317.5 874.1 315.5 871.8 C313.5 869.5 311.5 867.2 309.5 864.9 C307.5 862.6 305.5 860.3 303.5 858.0 C301.5 855.8 299.5 853.5 297.5 851.3 C295.5 849.2 293.5 847.0 291.5 844.9 C289.5 842.8 287.5 840.7 285.5 838.9 C283.5 837.1 281.5 835.7 279.5 834.1 C277.5 832.6 275.5 831.1 273.5 829.7 C271.5 828.3 269.5 826.9 267.5 825.7 C265.5 824.5 263.5 823.4 261.5 822.3 C259.5 821.2 257.5 820.1 255.5 819.0 C253.5 818.0 251.5 816.9 249.5 815.9 C247.5 815.0 245.5 814.2 243.5 813.4 C241.5 812.6 239.5 811.8 237.5 811.0 C235.5 810.2 233.5 809.4 231.5 808.7 C229.5 807.9 227.5 807.3 225.5 806.7 C223.5 806.0 221.5 805.4 219.5 804.9 C217.5 804.3 215.5 803.6 213.5 803.1 C211.5 802.5 209.5 802.0 207.5 801.5 C205.5 801.1 203.5 800.7 201.5 800.3 C199.5 799.9 197.5 799.5 195.5 799.1 C193.5 798.7 191.5 798.3 189.5 797.9 C187.5 797.5 185.5 797.1 183.5 796.7 C181.5 796.3 179.5 795.9 177.5 795.5 C175.5 795.1 173.5 794.7 171.5 794.3 C169.5 794.0 167.5 793.7 165.5 793.5 C163.5 793.2 161.5 793.0 159.5 792.7 C157.5 792.5 155.5 792.3 153.5 792.0 C151.5 791.8 149.5 791.6 147.5 791.3 C145.5 791.1 143.5 790.9 141.5 790.7 C139.5 790.4 136.5 790.1 135.5 790.0 Z" fill="none" stroke="#000" stroke-width="2.4" stroke-linejoin="round"/>
<path d="M135.5 779.5 V974.9 H699.0" fill="none" stroke="#111" stroke-width="2.2"/>
<path d="M135.5 792.5 h5.5 M135.5 874.0 h5.5 M135.5 955.6 h5.5 M135.5 974.9 v-5.5 M417.2 974.9 v-5.5 M699.0 974.9 v-5.5" stroke="#111" stroke-width="2.2"/>
<text transform="translate(124.5 807.5) scale(1 1.07)" font-size="40" text-anchor="end">0</text>
<text transform="translate(124.5 889.0) scale(1 1.07)" font-size="40" text-anchor="end">-100</text>
<text transform="translate(124.5 970.6) scale(1 1.07)" font-size="40" text-anchor="end">-200</text>
<text transform="translate(134.5 1023.4) scale(1 1.07)" font-size="40" text-anchor="middle">0</text>
<text transform="translate(417.8 1023.4) scale(1 1.07)" font-size="40" text-anchor="middle">50</text>
<text transform="translate(700.8 1023.4) scale(1 1.07)" font-size="40" text-anchor="middle">100</text>
<text transform="translate(417.2 761.8) scale(1 1.05)" font-size="44" font-weight="bold" text-anchor="middle">Hip AP Actuator</text>
<text transform="translate(417.2 1074.1) scale(1 1.04)" font-size="44" text-anchor="middle">Percent of Cycle</text>
<text transform="translate(35.2 877.2) rotate(-90) scale(1 1.04)" font-size="44" text-anchor="middle">Displacement (mm)</text>
</g>
<g>
<path d="M877.5 908.5 C879.2 907.6 884.2 904.9 887.6 903.1 C890.9 901.3 894.3 899.5 897.6 897.7 C901.0 895.9 904.3 894.1 907.7 892.4 C911.1 890.6 914.4 888.9 917.8 887.2 C921.1 885.4 924.5 883.7 927.8 882.0 C931.2 880.3 934.5 878.7 937.9 877.0 C941.3 875.3 944.6 873.7 948.0 872.1 C951.3 870.5 954.7 868.9 958.0 867.3 C961.4 865.7 964.7 864.2 968.1 862.6 C971.5 861.1 974.8 859.6 978.2 858.1 C981.5 856.6 984.9 855.2 988.2 853.7 C991.6 852.3 994.9 850.9 998.3 849.5 C1001.6 848.1 1005.0 846.7 1008.4 845.4 C1011.7 844.0 1015.1 842.7 1018.4 841.4 C1021.8 840.1 1025.1 838.9 1028.5 837.6 C1031.8 836.4 1035.2 835.2 1038.6 834.0 C1041.9 832.8 1045.3 831.7 1048.6 830.5 C1052.0 829.4 1055.3 828.3 1058.7 827.2 C1062.0 826.1 1065.4 825.1 1068.8 824.1 C1072.1 823.0 1075.5 822.0 1078.8 821.1 C1082.2 820.1 1085.5 819.1 1088.9 818.2 C1092.2 817.3 1095.6 816.4 1099.0 815.5 C1102.3 814.6 1105.7 813.8 1109.0 813.0 C1112.4 812.1 1115.7 811.3 1119.1 810.5 C1122.4 809.8 1125.8 809.0 1129.2 808.3 C1132.5 807.6 1135.9 806.9 1139.2 806.2 C1142.6 805.5 1145.9 804.8 1149.3 804.2 C1152.6 803.5 1156.0 802.9 1159.3 802.3 C1162.7 801.7 1166.1 801.2 1169.4 800.6 C1172.8 800.1 1176.1 799.5 1179.5 799.0 C1182.8 798.5 1186.2 798.0 1189.5 797.5 C1192.9 797.0 1196.3 796.6 1199.6 796.1 C1203.0 795.7 1206.3 795.3 1209.7 794.9 C1213.0 794.5 1216.4 794.1 1219.7 793.7 C1223.1 793.3 1226.5 793.0 1229.8 792.6 C1233.2 792.3 1236.5 792.0 1239.9 791.6 C1243.2 791.3 1246.6 791.0 1249.9 790.7 C1253.3 790.5 1256.7 790.2 1260.0 789.9 C1263.4 789.7 1266.7 789.4 1270.1 789.2 C1273.4 788.9 1276.8 788.7 1280.1 788.5 C1283.5 788.3 1286.9 788.1 1290.2 787.9 C1293.6 787.7 1296.9 787.5 1300.3 787.3 C1303.6 787.1 1307.0 787.0 1310.3 786.8 C1313.7 786.6 1317.1 786.5 1320.4 786.3 C1323.8 786.2 1327.1 786.0 1330.5 785.9 C1333.8 785.8 1337.2 785.6 1340.5 785.5 C1343.9 785.4 1347.2 785.3 1350.6 785.2 C1354.0 785.1 1357.3 785.0 1360.7 784.9 C1364.0 784.8 1367.4 784.7 1370.7 784.6 C1374.1 784.5 1377.4 784.4 1380.8 784.3 C1384.2 784.2 1387.5 784.1 1390.9 784.1 C1394.2 784.0 1397.6 783.9 1400.9 783.8 C1404.3 783.8 1407.6 783.7 1411.0 783.6 C1414.4 783.6 1417.7 783.5 1421.1 783.5 C1424.4 783.4 1427.8 783.3 1431.1 783.3 C1434.5 783.2 1439.5 783.2 1441.2 783.2 L1441.2 821.1 C1439.5 821.2 1434.5 821.7 1431.1 821.9 C1427.8 822.2 1424.4 822.4 1421.1 822.6 C1417.7 822.8 1414.4 822.9 1411.0 823.1 C1407.6 823.2 1404.3 823.4 1400.9 823.5 C1397.6 823.6 1394.2 823.7 1390.9 823.8 C1387.5 823.9 1384.2 824.0 1380.8 824.0 C1377.4 824.1 1374.1 824.2 1370.7 824.3 C1367.4 824.3 1364.0 824.4 1360.7 824.5 C1357.3 824.5 1354.0 824.6 1350.6 824.7 C1347.2 824.8 1343.9 824.8 1340.5 824.9 C1337.2 825.0 1333.8 825.1 1330.5 825.2 C1327.1 825.3 1323.8 825.5 1320.4 825.6 C1317.1 825.7 1313.7 825.9 1310.3 826.1 C1307.0 826.2 1303.6 826.4 1300.3 826.6 C1296.9 826.8 1293.6 827.0 1290.2 827.3 C1286.9 827.5 1283.5 827.8 1280.1 828.1 C1276.8 828.4 1273.4 828.7 1270.1 829.0 C1266.7 829.4 1263.4 829.7 1260.0 830.1 C1256.7 830.5 1253.3 830.9 1249.9 831.3 C1246.6 831.8 1243.2 832.2 1239.9 832.7 C1236.5 833.2 1233.2 833.7 1229.8 834.3 C1226.5 834.8 1223.1 835.4 1219.7 836.0 C1216.4 836.6 1213.0 837.2 1209.7 837.9 C1206.3 838.6 1203.0 839.2 1199.6 840.0 C1196.3 840.7 1192.9 841.4 1189.5 842.2 C1186.2 843.0 1182.8 843.8 1179.5 844.6 C1176.1 845.5 1172.8 846.3 1169.4 847.2 C1166.1 848.1 1162.7 849.0 1159.3 850.0 C1156.0 850.9 1152.6 851.9 1149.3 852.9 C1145.9 853.9 1142.6 854.9 1139.2 856.0 C1135.9 857.0 1132.5 858.1 1129.2 859.2 C1125.8 860.3 1122.4 861.4 1119.1 862.6 C1115.7 863.7 1112.4 864.9 1109.0 866.1 C1105.7 867.3 1102.3 868.5 1099.0 869.8 C1095.6 871.0 1092.2 872.2 1088.9 873.5 C1085.5 874.8 1082.2 876.1 1078.8 877.4 C1075.5 878.7 1072.1 880.0 1068.8 881.3 C1065.4 882.7 1062.0 884.0 1058.7 885.4 C1055.3 886.7 1052.0 888.1 1048.6 889.5 C1045.3 890.9 1041.9 892.3 1038.6 893.7 C1035.2 895.0 1031.8 896.4 1028.5 897.8 C1025.1 899.2 1021.8 900.7 1018.4 902.1 C1015.1 903.5 1011.7 904.9 1008.4 906.3 C1005.0 907.7 1001.6 909.1 998.3 910.5 C994.9 911.9 991.6 913.3 988.2 914.6 C984.9 916.0 981.5 917.4 978.2 918.7 C974.8 920.1 971.5 921.4 968.1 922.8 C964.7 924.1 961.4 925.4 958.0 926.7 C954.7 928.0 951.3 929.2 948.0 930.5 C944.6 931.7 941.3 933.0 937.9 934.2 C934.5 935.4 931.2 936.5 927.8 937.7 C924.5 938.8 921.1 939.9 917.8 941.0 C914.4 942.0 911.1 943.1 907.7 944.1 C904.3 945.1 901.0 946.0 897.6 946.9 C894.3 947.8 890.9 948.7 887.6 949.5 C884.2 950.3 879.2 951.4 877.5 951.8 Z" fill="#9999FF"/>
<path d="M877.5 931.1 C879.2 930.2 884.2 927.7 887.6 926.1 C890.9 924.5 894.3 922.8 897.6 921.2 C901.0 919.6 904.3 918.0 907.7 916.5 C911.1 914.9 914.4 913.3 917.8 911.8 C921.1 910.3 924.5 908.7 927.8 907.2 C931.2 905.7 934.5 904.2 937.9 902.7 C941.3 901.2 944.6 899.8 948.0 898.3 C951.3 896.9 954.7 895.4 958.0 894.0 C961.4 892.6 964.7 891.1 968.1 889.7 C971.5 888.3 974.8 886.9 978.2 885.6 C981.5 884.2 984.9 882.8 988.2 881.5 C991.6 880.1 994.9 878.8 998.3 877.4 C1001.6 876.1 1005.0 874.8 1008.4 873.5 C1011.7 872.2 1015.1 870.9 1018.4 869.6 C1021.8 868.4 1025.1 867.1 1028.5 865.9 C1031.8 864.6 1035.2 863.4 1038.6 862.2 C1041.9 861.0 1045.3 859.8 1048.6 858.6 C1052.0 857.4 1055.3 856.2 1058.7 855.1 C1062.0 853.9 1065.4 852.8 1068.8 851.7 C1072.1 850.5 1075.5 849.4 1078.8 848.4 C1082.2 847.3 1085.5 846.2 1088.9 845.1 C1092.2 844.1 1095.6 843.1 1099.0 842.0 C1102.3 841.0 1105.7 840.0 1109.0 839.1 C1112.4 838.1 1115.7 837.1 1119.1 836.2 C1122.4 835.2 1125.8 834.3 1129.2 833.4 C1132.5 832.5 1135.9 831.7 1139.2 830.8 C1142.6 829.9 1145.9 829.1 1149.3 828.3 C1152.6 827.5 1156.0 826.7 1159.3 825.9 C1162.7 825.1 1166.1 824.4 1169.4 823.7 C1172.8 822.9 1176.1 822.2 1179.5 821.6 C1182.8 820.9 1186.2 820.2 1189.5 819.6 C1192.9 819.0 1196.3 818.3 1199.6 817.7 C1203.0 817.2 1206.3 816.6 1209.7 816.0 C1213.0 815.5 1216.4 815.0 1219.7 814.5 C1223.1 814.0 1226.5 813.5 1229.8 813.1 C1233.2 812.6 1236.5 812.2 1239.9 811.8 C1243.2 811.4 1246.6 811.0 1249.9 810.6 C1253.3 810.3 1256.7 809.9 1260.0 809.6 C1263.4 809.3 1266.7 809.0 1270.1 808.7 C1273.4 808.4 1276.8 808.2 1280.1 807.9 C1283.5 807.7 1286.9 807.4 1290.2 807.2 C1293.6 807.0 1296.9 806.9 1300.3 806.7 C1303.6 806.5 1307.0 806.4 1310.3 806.2 C1313.7 806.1 1317.1 806.0 1320.4 805.9 C1323.8 805.8 1327.1 805.7 1330.5 805.6 C1333.8 805.5 1337.2 805.4 1340.5 805.3 C1343.9 805.3 1347.2 805.2 1350.6 805.2 C1354.0 805.1 1357.3 805.1 1360.7 805.0 C1364.0 805.0 1367.4 805.0 1370.7 804.9 C1374.1 804.9 1377.4 804.8 1380.8 804.8 C1384.2 804.8 1387.5 804.7 1390.9 804.7 C1394.2 804.6 1397.6 804.6 1400.9 804.5 C1404.3 804.4 1407.6 804.4 1411.0 804.3 C1414.4 804.2 1417.7 804.1 1421.1 803.9 C1424.4 803.8 1427.8 803.7 1431.1 803.5 C1434.5 803.3 1439.5 803.0 1441.2 802.9" fill="none" stroke="#ABABFF" stroke-width="10.5"/>
<path d="M877.5 931.1 C879.2 930.2 884.2 927.7 887.6 926.1 C890.9 924.5 894.3 922.8 897.6 921.2 C901.0 919.6 904.3 918.0 907.7 916.5 C911.1 914.9 914.4 913.3 917.8 911.8 C921.1 910.3 924.5 908.7 927.8 907.2 C931.2 905.7 934.5 904.2 937.9 902.7 C941.3 901.2 944.6 899.8 948.0 898.3 C951.3 896.9 954.7 895.4 958.0 894.0 C961.4 892.6 964.7 891.1 968.1 889.7 C971.5 888.3 974.8 886.9 978.2 885.6 C981.5 884.2 984.9 882.8 988.2 881.5 C991.6 880.1 994.9 878.8 998.3 877.4 C1001.6 876.1 1005.0 874.8 1008.4 873.5 C1011.7 872.2 1015.1 870.9 1018.4 869.6 C1021.8 868.4 1025.1 867.1 1028.5 865.9 C1031.8 864.6 1035.2 863.4 1038.6 862.2 C1041.9 861.0 1045.3 859.8 1048.6 858.6 C1052.0 857.4 1055.3 856.2 1058.7 855.1 C1062.0 853.9 1065.4 852.8 1068.8 851.7 C1072.1 850.5 1075.5 849.4 1078.8 848.4 C1082.2 847.3 1085.5 846.2 1088.9 845.1 C1092.2 844.1 1095.6 843.1 1099.0 842.0 C1102.3 841.0 1105.7 840.0 1109.0 839.1 C1112.4 838.1 1115.7 837.1 1119.1 836.2 C1122.4 835.2 1125.8 834.3 1129.2 833.4 C1132.5 832.5 1135.9 831.7 1139.2 830.8 C1142.6 829.9 1145.9 829.1 1149.3 828.3 C1152.6 827.5 1156.0 826.7 1159.3 825.9 C1162.7 825.1 1166.1 824.4 1169.4 823.7 C1172.8 822.9 1176.1 822.2 1179.5 821.6 C1182.8 820.9 1186.2 820.2 1189.5 819.6 C1192.9 819.0 1196.3 818.3 1199.6 817.7 C1203.0 817.2 1206.3 816.6 1209.7 816.0 C1213.0 815.5 1216.4 815.0 1219.7 814.5 C1223.1 814.0 1226.5 813.5 1229.8 813.1 C1233.2 812.6 1236.5 812.2 1239.9 811.8 C1243.2 811.4 1246.6 811.0 1249.9 810.6 C1253.3 810.3 1256.7 809.9 1260.0 809.6 C1263.4 809.3 1266.7 809.0 1270.1 808.7 C1273.4 808.4 1276.8 808.2 1280.1 807.9 C1283.5 807.7 1286.9 807.4 1290.2 807.2 C1293.6 807.0 1296.9 806.9 1300.3 806.7 C1303.6 806.5 1307.0 806.4 1310.3 806.2 C1313.7 806.1 1317.1 806.0 1320.4 805.9 C1323.8 805.8 1327.1 805.7 1330.5 805.6 C1333.8 805.5 1337.2 805.4 1340.5 805.3 C1343.9 805.3 1347.2 805.2 1350.6 805.2 C1354.0 805.1 1357.3 805.1 1360.7 805.0 C1364.0 805.0 1367.4 805.0 1370.7 804.9 C1374.1 804.9 1377.4 804.8 1380.8 804.8 C1384.2 804.8 1387.5 804.7 1390.9 804.7 C1394.2 804.6 1397.6 804.6 1400.9 804.5 C1404.3 804.4 1407.6 804.4 1411.0 804.3 C1414.4 804.2 1417.7 804.1 1421.1 803.9 C1424.4 803.8 1427.8 803.7 1431.1 803.5 C1434.5 803.3 1439.5 803.0 1441.2 802.9" fill="none" stroke="#0000FF" stroke-width="7.5"/>
<path d="M877.5 908.5 C879.2 907.6 884.2 904.9 887.6 903.1 C890.9 901.3 894.3 899.5 897.6 897.7 C901.0 895.9 904.3 894.1 907.7 892.4 C911.1 890.6 914.4 888.9 917.8 887.2 C921.1 885.4 924.5 883.7 927.8 882.0 C931.2 880.3 934.5 878.7 937.9 877.0 C941.3 875.3 944.6 873.7 948.0 872.1 C951.3 870.5 954.7 868.9 958.0 867.3 C961.4 865.7 964.7 864.2 968.1 862.6 C971.5 861.1 974.8 859.6 978.2 858.1 C981.5 856.6 984.9 855.2 988.2 853.7 C991.6 852.3 994.9 850.9 998.3 849.5 C1001.6 848.1 1005.0 846.7 1008.4 845.4 C1011.7 844.0 1015.1 842.7 1018.4 841.4 C1021.8 840.1 1025.1 838.9 1028.5 837.6 C1031.8 836.4 1035.2 835.2 1038.6 834.0 C1041.9 832.8 1045.3 831.7 1048.6 830.5 C1052.0 829.4 1055.3 828.3 1058.7 827.2 C1062.0 826.1 1065.4 825.1 1068.8 824.1 C1072.1 823.0 1075.5 822.0 1078.8 821.1 C1082.2 820.1 1085.5 819.1 1088.9 818.2 C1092.2 817.3 1095.6 816.4 1099.0 815.5 C1102.3 814.6 1105.7 813.8 1109.0 813.0 C1112.4 812.1 1115.7 811.3 1119.1 810.5 C1122.4 809.8 1125.8 809.0 1129.2 808.3 C1132.5 807.6 1135.9 806.9 1139.2 806.2 C1142.6 805.5 1145.9 804.8 1149.3 804.2 C1152.6 803.5 1156.0 802.9 1159.3 802.3 C1162.7 801.7 1166.1 801.2 1169.4 800.6 C1172.8 800.1 1176.1 799.5 1179.5 799.0 C1182.8 798.5 1186.2 798.0 1189.5 797.5 C1192.9 797.0 1196.3 796.6 1199.6 796.1 C1203.0 795.7 1206.3 795.3 1209.7 794.9 C1213.0 794.5 1216.4 794.1 1219.7 793.7 C1223.1 793.3 1226.5 793.0 1229.8 792.6 C1233.2 792.3 1236.5 792.0 1239.9 791.6 C1243.2 791.3 1246.6 791.0 1249.9 790.7 C1253.3 790.5 1256.7 790.2 1260.0 789.9 C1263.4 789.7 1266.7 789.4 1270.1 789.2 C1273.4 788.9 1276.8 788.7 1280.1 788.5 C1283.5 788.3 1286.9 788.1 1290.2 787.9 C1293.6 787.7 1296.9 787.5 1300.3 787.3 C1303.6 787.1 1307.0 787.0 1310.3 786.8 C1313.7 786.6 1317.1 786.5 1320.4 786.3 C1323.8 786.2 1327.1 786.0 1330.5 785.9 C1333.8 785.8 1337.2 785.6 1340.5 785.5 C1343.9 785.4 1347.2 785.3 1350.6 785.2 C1354.0 785.1 1357.3 785.0 1360.7 784.9 C1364.0 784.8 1367.4 784.7 1370.7 784.6 C1374.1 784.5 1377.4 784.4 1380.8 784.3 C1384.2 784.2 1387.5 784.1 1390.9 784.1 C1394.2 784.0 1397.6 783.9 1400.9 783.8 C1404.3 783.8 1407.6 783.7 1411.0 783.6 C1414.4 783.6 1417.7 783.5 1421.1 783.5 C1424.4 783.4 1427.8 783.3 1431.1 783.3 C1434.5 783.2 1439.5 783.2 1441.2 783.2 L1441.2 821.1 C1439.5 821.2 1434.5 821.7 1431.1 821.9 C1427.8 822.2 1424.4 822.4 1421.1 822.6 C1417.7 822.8 1414.4 822.9 1411.0 823.1 C1407.6 823.2 1404.3 823.4 1400.9 823.5 C1397.6 823.6 1394.2 823.7 1390.9 823.8 C1387.5 823.9 1384.2 824.0 1380.8 824.0 C1377.4 824.1 1374.1 824.2 1370.7 824.3 C1367.4 824.3 1364.0 824.4 1360.7 824.5 C1357.3 824.5 1354.0 824.6 1350.6 824.7 C1347.2 824.8 1343.9 824.8 1340.5 824.9 C1337.2 825.0 1333.8 825.1 1330.5 825.2 C1327.1 825.3 1323.8 825.5 1320.4 825.6 C1317.1 825.7 1313.7 825.9 1310.3 826.1 C1307.0 826.2 1303.6 826.4 1300.3 826.6 C1296.9 826.8 1293.6 827.0 1290.2 827.3 C1286.9 827.5 1283.5 827.8 1280.1 828.1 C1276.8 828.4 1273.4 828.7 1270.1 829.0 C1266.7 829.4 1263.4 829.7 1260.0 830.1 C1256.7 830.5 1253.3 830.9 1249.9 831.3 C1246.6 831.8 1243.2 832.2 1239.9 832.7 C1236.5 833.2 1233.2 833.7 1229.8 834.3 C1226.5 834.8 1223.1 835.4 1219.7 836.0 C1216.4 836.6 1213.0 837.2 1209.7 837.9 C1206.3 838.6 1203.0 839.2 1199.6 840.0 C1196.3 840.7 1192.9 841.4 1189.5 842.2 C1186.2 843.0 1182.8 843.8 1179.5 844.6 C1176.1 845.5 1172.8 846.3 1169.4 847.2 C1166.1 848.1 1162.7 849.0 1159.3 850.0 C1156.0 850.9 1152.6 851.9 1149.3 852.9 C1145.9 853.9 1142.6 854.9 1139.2 856.0 C1135.9 857.0 1132.5 858.1 1129.2 859.2 C1125.8 860.3 1122.4 861.4 1119.1 862.6 C1115.7 863.7 1112.4 864.9 1109.0 866.1 C1105.7 867.3 1102.3 868.5 1099.0 869.8 C1095.6 871.0 1092.2 872.2 1088.9 873.5 C1085.5 874.8 1082.2 876.1 1078.8 877.4 C1075.5 878.7 1072.1 880.0 1068.8 881.3 C1065.4 882.7 1062.0 884.0 1058.7 885.4 C1055.3 886.7 1052.0 888.1 1048.6 889.5 C1045.3 890.9 1041.9 892.3 1038.6 893.7 C1035.2 895.0 1031.8 896.4 1028.5 897.8 C1025.1 899.2 1021.8 900.7 1018.4 902.1 C1015.1 903.5 1011.7 904.9 1008.4 906.3 C1005.0 907.7 1001.6 909.1 998.3 910.5 C994.9 911.9 991.6 913.3 988.2 914.6 C984.9 916.0 981.5 917.4 978.2 918.7 C974.8 920.1 971.5 921.4 968.1 922.8 C964.7 924.1 961.4 925.4 958.0 926.7 C954.7 928.0 951.3 929.2 948.0 930.5 C944.6 931.7 941.3 933.0 937.9 934.2 C934.5 935.4 931.2 936.5 927.8 937.7 C924.5 938.8 921.1 939.9 917.8 941.0 C914.4 942.0 911.1 943.1 907.7 944.1 C904.3 945.1 901.0 946.0 897.6 946.9 C894.3 947.8 890.9 948.7 887.6 949.5 C884.2 950.3 879.2 951.4 877.5 951.8 Z" fill="none" stroke="#000" stroke-width="2.4" stroke-linejoin="round"/>
<path d="M877.5 779.5 V974.9 H1441.2" fill="none" stroke="#111" stroke-width="2.2"/>
<path d="M877.5 779.6 h5.5 M877.5 877.0 h5.5 M877.5 974.5 h5.5 M877.5 974.9 v-5.5 M1159.3 974.9 v-5.5 M1441.2 974.9 v-5.5" stroke="#111" stroke-width="2.2"/>
<text transform="translate(866.5 794.6) scale(1 1.07)" font-size="40" text-anchor="end">100</text>
<text transform="translate(866.5 892.0) scale(1 1.07)" font-size="40" text-anchor="end">50</text>
<text transform="translate(866.5 989.5) scale(1 1.07)" font-size="40" text-anchor="end">0</text>
<text transform="translate(876.5 1023.4) scale(1 1.07)" font-size="40" text-anchor="middle">0</text>
<text transform="translate(1159.8 1023.4) scale(1 1.07)" font-size="40" text-anchor="middle">50</text>
<text transform="translate(1443.0 1023.4) scale(1 1.07)" font-size="40" text-anchor="middle">100</text>
<text transform="translate(1159.3 761.8) scale(1 1.05)" font-size="44" font-weight="bold" text-anchor="middle">Pelvis Rotation Actuator</text>
<text transform="translate(1159.3 1074.1) scale(1 1.04)" font-size="44" text-anchor="middle">Percent of Cycle</text>
<text transform="translate(792.4 877.2) rotate(-90) scale(1 1.04)" font-size="44" text-anchor="middle">Rotation (Deg)</text>
</g>
<g>
<path d="M135.5 1324.1 C136.5 1324.0 139.5 1323.8 141.5 1323.7 C143.5 1323.6 145.5 1323.4 147.5 1323.3 C149.5 1323.3 151.5 1323.2 153.5 1323.2 C155.5 1323.2 157.5 1323.3 159.5 1323.4 C161.5 1323.4 163.5 1323.5 165.5 1323.5 C167.5 1323.6 169.5 1323.6 171.5 1323.6 C173.5 1323.6 175.5 1323.6 177.5 1323.6 C179.5 1323.5 181.5 1323.5 183.5 1323.4 C185.5 1323.4 187.5 1323.4 189.5 1323.2 C191.5 1323.1 193.5 1323.0 195.5 1322.8 C197.5 1322.6 199.5 1322.3 201.5 1322.1 C203.5 1321.9 205.5 1321.7 207.5 1321.4 C209.5 1321.2 211.5 1321.0 213.5 1320.8 C215.5 1320.5 217.5 1320.3 219.5 1320.1 C221.5 1319.9 223.5 1319.6 225.5 1319.4 C227.5 1319.1 229.5 1318.9 231.5 1318.6 C233.5 1318.2 235.5 1317.8 237.5 1317.4 C239.5 1316.9 241.5 1316.5 243.5 1315.9 C245.5 1315.4 247.5 1314.9 249.5 1314.3 C251.5 1313.7 253.5 1313.1 255.5 1312.5 C257.5 1311.8 259.5 1311.1 261.5 1310.4 C263.5 1309.6 265.5 1308.8 267.5 1308.0 C269.5 1307.2 271.5 1306.3 273.5 1305.4 C275.5 1304.5 277.5 1303.5 279.5 1302.5 C281.5 1301.5 283.5 1300.4 285.5 1299.3 C287.5 1298.2 289.5 1296.9 291.5 1295.7 C293.5 1294.4 295.5 1293.1 297.5 1291.7 C299.5 1290.3 301.5 1288.8 303.5 1287.3 C305.5 1285.7 307.5 1284.1 309.5 1282.6 C311.5 1281.0 313.5 1279.6 315.5 1278.1 C317.5 1276.7 319.5 1275.4 321.5 1274.1 C323.5 1272.8 325.5 1271.5 327.5 1270.1 C329.5 1268.7 331.5 1267.2 333.5 1265.8 C335.5 1264.3 337.5 1262.7 339.5 1261.2 C341.5 1259.6 343.5 1258.0 345.5 1256.4 C347.5 1254.8 349.5 1253.2 351.5 1251.6 C353.5 1250.0 355.5 1248.3 357.5 1246.6 C359.5 1244.9 361.5 1243.1 363.5 1241.4 C365.5 1239.6 367.5 1237.8 369.5 1236.1 C371.5 1234.4 373.5 1232.7 375.5 1231.1 C377.5 1229.4 379.5 1227.9 381.5 1226.2 C383.5 1224.5 385.5 1222.8 387.5 1221.1 C389.5 1219.4 391.5 1217.5 393.5 1215.8 C395.5 1214.1 397.5 1212.4 399.5 1210.8 C401.5 1209.1 403.5 1207.7 405.5 1206.1 C407.5 1204.6 409.5 1203.1 411.5 1201.6 C413.5 1200.1 415.5 1198.6 417.5 1197.1 C419.5 1195.6 421.5 1194.1 423.5 1192.7 C425.5 1191.3 427.5 1190.1 429.5 1188.8 C431.5 1187.5 433.5 1186.4 435.5 1185.2 C437.5 1184.0 439.5 1182.9 441.5 1181.8 C443.5 1180.6 445.5 1179.5 447.5 1178.4 C449.5 1177.4 451.5 1176.3 453.5 1175.3 C455.5 1174.3 457.5 1173.4 459.5 1172.5 C461.5 1171.6 463.5 1170.8 465.5 1169.9 C467.5 1169.1 469.5 1168.3 471.5 1167.5 C473.5 1166.7 475.5 1165.9 477.5 1165.1 C479.5 1164.4 481.5 1163.6 483.5 1162.9 C485.5 1162.2 487.5 1161.5 489.5 1160.9 C491.5 1160.2 493.5 1159.6 495.5 1159.1 C497.5 1158.5 499.5 1158.0 501.5 1157.5 C503.5 1157.1 505.5 1156.6 507.5 1156.3 C509.5 1155.9 511.5 1155.7 513.5 1155.4 C515.5 1155.1 517.5 1154.8 519.5 1154.5 C521.5 1154.2 523.5 1153.9 525.5 1153.5 C527.5 1153.2 529.5 1152.8 531.5 1152.5 C533.5 1152.1 535.5 1151.8 537.5 1151.4 C539.5 1151.1 541.5 1150.7 543.5 1150.4 C545.5 1150.1 547.5 1149.8 549.5 1149.5 C551.5 1149.3 553.5 1149.1 555.5 1148.9 C557.5 1148.7 559.5 1148.5 561.5 1148.3 C563.5 1148.1 565.5 1147.9 567.5 1147.7 C569.5 1147.5 571.5 1147.3 573.5 1147.1 C575.5 1147.0 577.5 1146.9 579.5 1146.7 C581.5 1146.6 583.5 1146.5 585.5 1146.4 C587.5 1146.3 589.5 1146.2 591.5 1146.1 C593.5 1146.0 595.5 1145.9 597.5 1145.8 C599.5 1145.7 601.5 1145.6 603.5 1145.6 C605.5 1145.5 607.5 1145.4 609.5 1145.4 C611.5 1145.3 613.5 1145.3 615.5 1145.2 C617.5 1145.2 619.5 1145.1 621.5 1145.1 C623.5 1145.0 625.5 1145.0 627.5 1145.0 C629.5 1144.9 631.5 1145.0 633.5 1145.0 C635.5 1145.0 637.5 1145.0 639.5 1145.0 C641.5 1145.0 643.5 1145.1 645.5 1145.1 C647.5 1145.1 649.5 1145.1 651.5 1145.2 C653.5 1145.2 655.5 1145.3 657.5 1145.4 C659.5 1145.6 661.5 1145.7 663.5 1145.9 C665.5 1146.1 667.5 1146.3 669.5 1146.4 C671.5 1146.6 673.5 1146.8 675.5 1147.0 C677.5 1147.1 679.5 1147.3 681.5 1147.4 C683.5 1147.6 685.5 1147.7 687.5 1147.8 C689.5 1147.9 691.7 1148.0 693.5 1148.1 C695.3 1148.1 697.7 1148.2 698.5 1148.3" fill="none" stroke="#0000FF" stroke-width="7" stroke-linecap="round"/>
<path d="M135.5 1324.1 C136.5 1324.0 139.5 1323.8 141.5 1323.7 C143.5 1323.6 145.5 1323.4 147.5 1323.3 C149.5 1323.3 151.5 1323.2 153.5 1323.2 C155.5 1323.2 157.5 1323.3 159.5 1323.4 C161.5 1323.4 163.5 1323.5 165.5 1323.5 C167.5 1323.6 169.5 1323.6 171.5 1323.6 C173.5 1323.6 175.5 1323.6 177.5 1323.6 C179.5 1323.5 181.5 1323.5 183.5 1323.4 C185.5 1323.4 187.5 1323.4 189.5 1323.2 C191.5 1323.1 193.5 1323.0 195.5 1322.8 C197.5 1322.6 199.5 1322.3 201.5 1322.1 C203.5 1321.9 205.5 1321.7 207.5 1321.4 C209.5 1321.2 211.5 1321.0 213.5 1320.8 C215.5 1320.5 217.5 1320.3 219.5 1320.1 C221.5 1319.9 223.5 1319.6 225.5 1319.4 C227.5 1319.1 229.5 1318.9 231.5 1318.6 C233.5 1318.2 235.5 1317.8 237.5 1317.4 C239.5 1316.9 241.5 1316.5 243.5 1315.9 C245.5 1315.4 247.5 1314.9 249.5 1314.3 C251.5 1313.7 253.5 1313.1 255.5 1312.5 C257.5 1311.8 259.5 1311.1 261.5 1310.4 C263.5 1309.6 265.5 1308.8 267.5 1308.0 C269.5 1307.2 271.5 1306.3 273.5 1305.4 C275.5 1304.5 277.5 1303.5 279.5 1302.5 C281.5 1301.5 283.5 1300.4 285.5 1299.3 C287.5 1298.2 289.5 1296.9 291.5 1295.7 C293.5 1294.4 295.5 1293.1 297.5 1291.7 C299.5 1290.3 301.5 1288.8 303.5 1287.3 C305.5 1285.7 307.5 1284.1 309.5 1282.6 C311.5 1281.0 313.5 1279.6 315.5 1278.1 C317.5 1276.7 319.5 1275.4 321.5 1274.1 C323.5 1272.8 325.5 1271.5 327.5 1270.1 C329.5 1268.7 331.5 1267.2 333.5 1265.8 C335.5 1264.3 337.5 1262.7 339.5 1261.2 C341.5 1259.6 343.5 1258.0 345.5 1256.4 C347.5 1254.8 349.5 1253.2 351.5 1251.6 C353.5 1250.0 355.5 1248.3 357.5 1246.6 C359.5 1244.9 361.5 1243.1 363.5 1241.4 C365.5 1239.6 367.5 1237.8 369.5 1236.1 C371.5 1234.4 373.5 1232.7 375.5 1231.1 C377.5 1229.4 379.5 1227.9 381.5 1226.2 C383.5 1224.5 385.5 1222.8 387.5 1221.1 C389.5 1219.4 391.5 1217.5 393.5 1215.8 C395.5 1214.1 397.5 1212.4 399.5 1210.8 C401.5 1209.1 403.5 1207.7 405.5 1206.1 C407.5 1204.6 409.5 1203.1 411.5 1201.6 C413.5 1200.1 415.5 1198.6 417.5 1197.1 C419.5 1195.6 421.5 1194.1 423.5 1192.7 C425.5 1191.3 427.5 1190.1 429.5 1188.8 C431.5 1187.5 433.5 1186.4 435.5 1185.2 C437.5 1184.0 439.5 1182.9 441.5 1181.8 C443.5 1180.6 445.5 1179.5 447.5 1178.4 C449.5 1177.4 451.5 1176.3 453.5 1175.3 C455.5 1174.3 457.5 1173.4 459.5 1172.5 C461.5 1171.6 463.5 1170.8 465.5 1169.9 C467.5 1169.1 469.5 1168.3 471.5 1167.5 C473.5 1166.7 475.5 1165.9 477.5 1165.1 C479.5 1164.4 481.5 1163.6 483.5 1162.9 C485.5 1162.2 487.5 1161.5 489.5 1160.9 C491.5 1160.2 493.5 1159.6 495.5 1159.1 C497.5 1158.5 499.5 1158.0 501.5 1157.5 C503.5 1157.1 505.5 1156.6 507.5 1156.3 C509.5 1155.9 511.5 1155.7 513.5 1155.4 C515.5 1155.1 517.5 1154.8 519.5 1154.5 C521.5 1154.2 523.5 1153.9 525.5 1153.5 C527.5 1153.2 529.5 1152.8 531.5 1152.5 C533.5 1152.1 535.5 1151.8 537.5 1151.4 C539.5 1151.1 541.5 1150.7 543.5 1150.4 C545.5 1150.1 547.5 1149.8 549.5 1149.5 C551.5 1149.3 553.5 1149.1 555.5 1148.9 C557.5 1148.7 559.5 1148.5 561.5 1148.3 C563.5 1148.1 565.5 1147.9 567.5 1147.7 C569.5 1147.5 571.5 1147.3 573.5 1147.1 C575.5 1147.0 577.5 1146.9 579.5 1146.7 C581.5 1146.6 583.5 1146.5 585.5 1146.4 C587.5 1146.3 589.5 1146.2 591.5 1146.1 C593.5 1146.0 595.5 1145.9 597.5 1145.8 C599.5 1145.7 601.5 1145.6 603.5 1145.6 C605.5 1145.5 607.5 1145.4 609.5 1145.4 C611.5 1145.3 613.5 1145.3 615.5 1145.2 C617.5 1145.2 619.5 1145.1 621.5 1145.1 C623.5 1145.0 625.5 1145.0 627.5 1145.0 C629.5 1144.9 631.5 1145.0 633.5 1145.0 C635.5 1145.0 637.5 1145.0 639.5 1145.0 C641.5 1145.0 643.5 1145.1 645.5 1145.1 C647.5 1145.1 649.5 1145.1 651.5 1145.2 C653.5 1145.2 655.5 1145.3 657.5 1145.4 C659.5 1145.6 661.5 1145.7 663.5 1145.9 C665.5 1146.1 667.5 1146.3 669.5 1146.4 C671.5 1146.6 673.5 1146.8 675.5 1147.0 C677.5 1147.1 679.5 1147.3 681.5 1147.4 C683.5 1147.6 685.5 1147.7 687.5 1147.8 C689.5 1147.9 691.7 1148.0 693.5 1148.1 C695.3 1148.1 697.7 1148.2 698.5 1148.3" fill="none" stroke="#000" stroke-width="3.6" stroke-linecap="butt"/>
<path d="M135.5 1143.6 V1339.0 H699.0" fill="none" stroke="#111" stroke-width="2.2"/>
<path d="M135.5 1143.6 h5.5 M135.5 1241.0 h5.5 M135.5 1338.8 h5.5 M135.5 1339.0 v-5.5 M417.2 1339.0 v-5.5 M699.0 1339.0 v-5.5" stroke="#111" stroke-width="2.2"/>
<text transform="translate(124.5 1158.6) scale(1 1.07)" font-size="40" text-anchor="end">100</text>
<text transform="translate(124.5 1256.0) scale(1 1.07)" font-size="40" text-anchor="end">50</text>
<text transform="translate(124.5 1353.8) scale(1 1.07)" font-size="40" text-anchor="end">0</text>
<text transform="translate(134.5 1387.5) scale(1 1.07)" font-size="40" text-anchor="middle">0</text>
<text transform="translate(417.8 1387.5) scale(1 1.07)" font-size="40" text-anchor="middle">50</text>
<text transform="translate(700.8 1387.5) scale(1 1.07)" font-size="40" text-anchor="middle">100</text>
<text transform="translate(417.2 1125.9) scale(1 1.05)" font-size="44" font-weight="bold" text-anchor="middle">Flexion Actuator</text>
<text transform="translate(417.2 1438.2) scale(1 1.04)" font-size="44" text-anchor="middle">Percent of Cycle</text>
<text transform="translate(50.6 1241.3) rotate(-90) scale(1 1.04)" font-size="44" text-anchor="middle">Rotation (Deg)</text>
</g>
</svg></body></html>
